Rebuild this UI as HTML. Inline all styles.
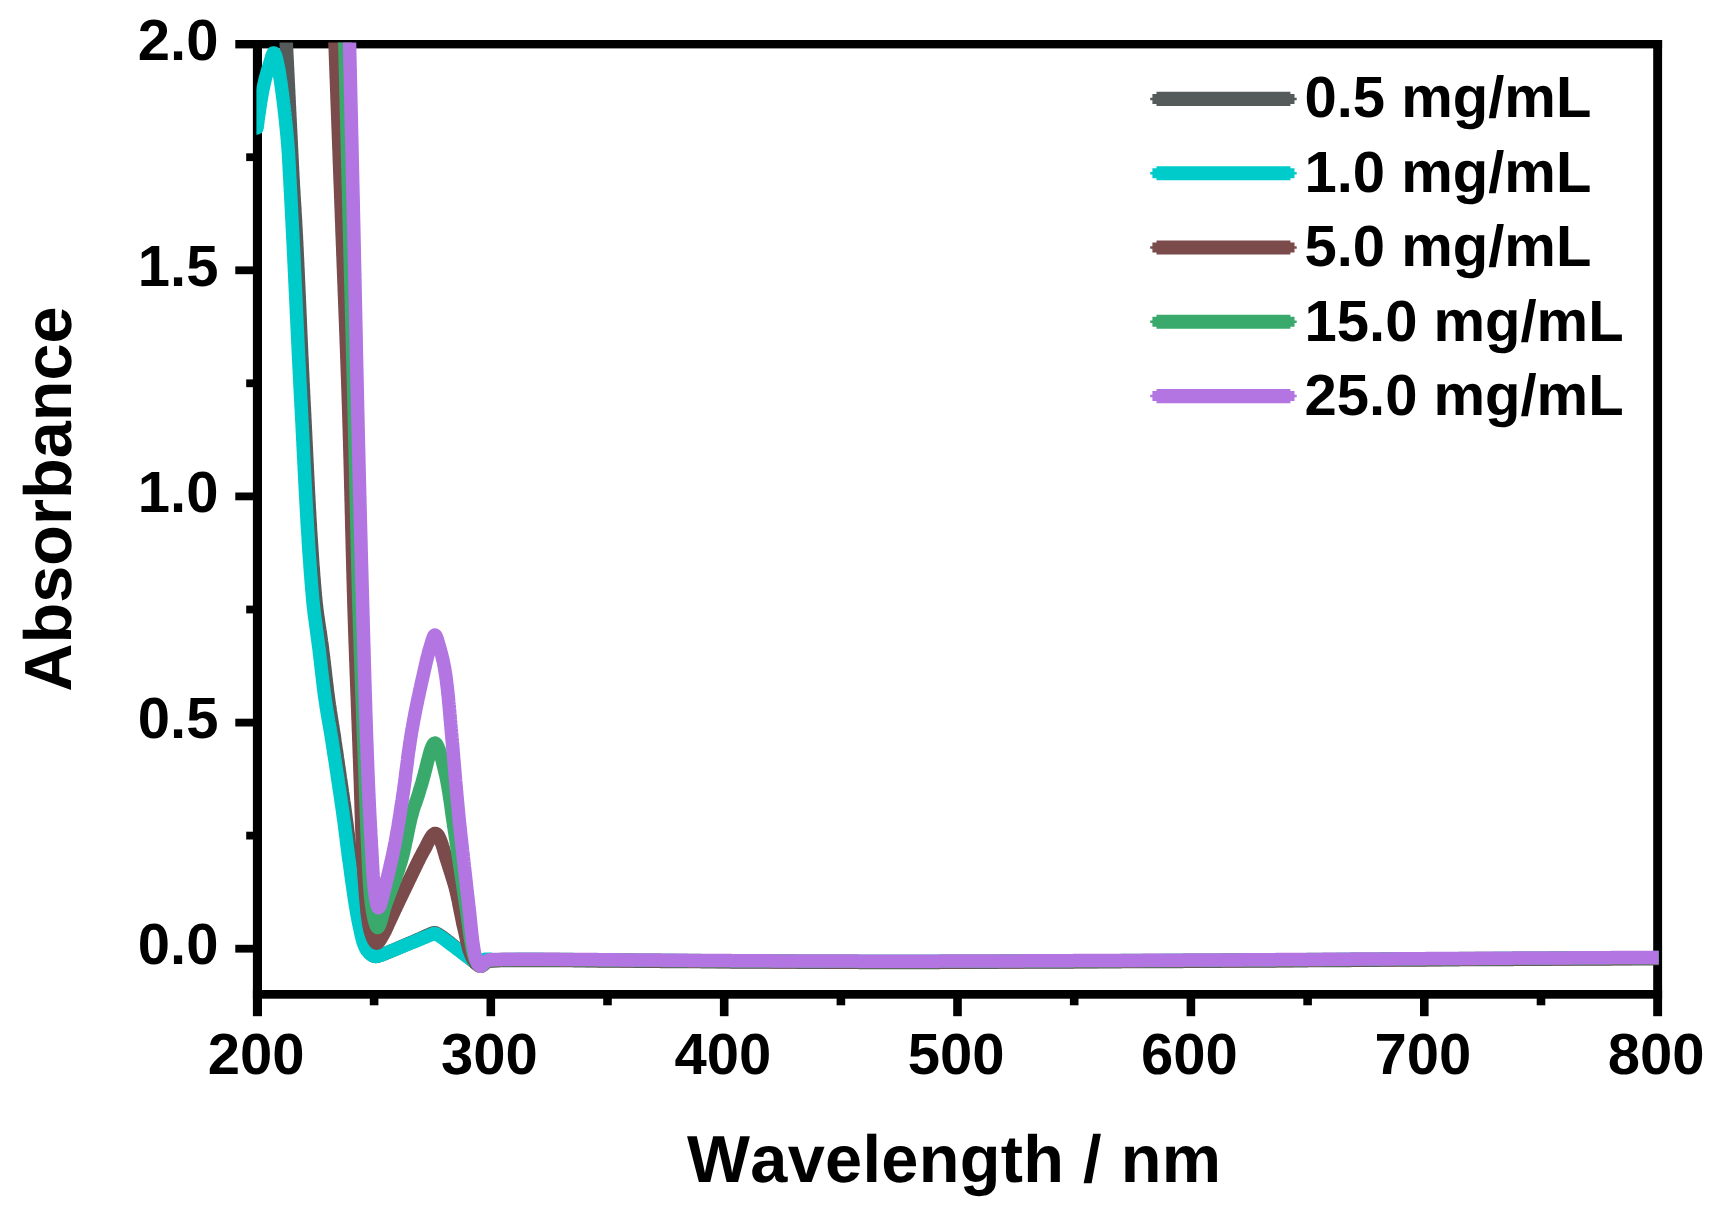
<!DOCTYPE html>
<html lang="en"><head><meta charset="utf-8"><title>UV-Vis absorbance</title>
<style>html,body{margin:0;padding:0;background:#fff;overflow:hidden}svg{display:block}text{font-family:"Liberation Sans",Arial,Helvetica,sans-serif;font-weight:bold;fill:#000;font-kerning:none;text-rendering:geometricPrecision}.t{font-size:58px}.a{font-size:66.7px}</style></head><body>
<svg width="1721" height="1214" viewBox="0 0 1721 1214">
<rect width="1721" height="1214" fill="#fff"/>
<g fill="#000">
<rect x="235.3" y="40.0" width="1426.8" height="8.4"/>
<rect x="252.9" y="40.0" width="9.1" height="976.2"/>
<rect x="1653.2" y="40.0" width="8.9" height="976.2"/>
<rect x="252.9" y="990.0" width="1409.2" height="8.7"/>
<rect x="235.3" y="266.4" width="18.6" height="7.8"/>
<rect x="235.3" y="492.5" width="18.6" height="7.8"/>
<rect x="235.3" y="718.7" width="18.6" height="7.8"/>
<rect x="235.3" y="944.8" width="18.6" height="7.8"/>
<rect x="246.2" y="153.3" width="7.7" height="7.8"/>
<rect x="246.2" y="379.4" width="7.7" height="7.8"/>
<rect x="246.2" y="605.6" width="7.7" height="7.8"/>
<rect x="246.2" y="831.7" width="7.7" height="7.8"/>
<rect x="486.5" y="991.0" width="8.6" height="25.2"/>
<rect x="719.9" y="991.0" width="8.6" height="25.2"/>
<rect x="953.2" y="991.0" width="8.6" height="25.2"/>
<rect x="1186.6" y="991.0" width="8.6" height="25.2"/>
<rect x="1420.0" y="991.0" width="8.6" height="25.2"/>
<rect x="369.8" y="991.0" width="8.6" height="14.3"/>
<rect x="603.2" y="991.0" width="8.6" height="14.3"/>
<rect x="836.6" y="991.0" width="8.6" height="14.3"/>
<rect x="1069.9" y="991.0" width="8.6" height="14.3"/>
<rect x="1303.3" y="991.0" width="8.6" height="14.3"/>
<rect x="1536.7" y="991.0" width="8.6" height="14.3"/>
</g>
<defs><clipPath id="c"><rect x="256.4" y="42.5" width="1402.2" height="951.5"/></clipPath></defs>
<g clip-path="url(#c)" fill="none" stroke-width="13.5" stroke-linejoin="round" stroke-linecap="round">
<path stroke="#555B5A" d="M283.5 0.0L283.6 1.5L283.7 3.0L283.8 4.5L283.9 6.0L284.0 7.5L284.1 9.0L284.2 10.5L284.3 12.0L284.4 13.5L284.5 15.0L284.6 16.5L284.7 18.0L284.8 19.5L284.9 21.0L285.0 22.5L285.1 24.0L285.2 25.5L285.3 27.0L285.4 28.5L285.5 30.0L285.6 31.5L285.6 33.0L285.7 34.5L285.8 36.0L285.9 37.4L286.0 38.9L286.1 40.4L286.2 41.9L286.3 43.4L286.3 44.9L286.4 46.4L286.5 47.9L286.6 49.4L286.7 50.9L286.7 52.4L286.8 53.9L286.9 55.4L287.0 56.9L287.0 58.4L287.1 59.9L287.2 61.4L287.3 62.9L287.3 64.4L287.4 65.9L287.5 67.4L287.6 68.9L287.6 70.4L287.7 71.9L287.8 73.4L287.9 74.9L287.9 76.4L288.0 77.9L288.1 79.4L288.1 80.9L288.2 82.4L288.3 83.9L288.4 85.4L288.4 86.9L288.5 88.4L288.6 89.9L288.7 91.4L288.7 92.9L288.8 94.4L288.9 95.9L289.0 97.4L289.0 98.9L289.1 100.4L289.2 101.9L289.2 103.4L289.3 104.9L289.4 106.4L289.5 107.9L289.5 109.4L289.6 110.9L289.7 112.4L289.8 113.9L289.8 115.4L289.9 116.9L290.0 118.4L290.1 119.9L290.1 121.4L290.2 122.9L290.3 124.4L290.4 125.9L290.4 127.4L290.5 128.9L290.6 130.4L290.7 131.9L290.7 133.4L290.8 134.9L290.9 136.4L291.0 137.9L291.0 139.4L291.1 140.9L291.2 142.4L291.3 143.9L291.3 145.4L291.4 146.9L291.5 148.4L291.6 149.9L291.6 151.4L291.7 152.9L291.8 154.4L291.9 155.9L291.9 157.4L292.0 158.9L292.1 160.4L292.2 161.9L292.2 163.4L292.3 164.9L292.4 166.4L292.5 167.9L292.5 169.4L292.6 170.9L292.7 172.4L292.8 173.9L292.8 175.4L292.9 176.9L293.0 178.4L293.1 179.9L293.2 181.4L293.3 182.9L293.3 184.4L293.4 185.9L293.5 187.4L293.6 188.9L293.7 190.4L293.8 191.9L293.9 193.4L293.9 194.9L294.0 196.4L294.1 197.9L294.2 199.4L294.3 200.9L294.4 202.3L294.5 203.8L294.6 205.3L294.7 206.8L294.8 208.3L294.9 209.8L294.9 211.3L295.0 212.8L295.1 214.3L295.2 215.8L295.3 217.3L295.4 218.8L295.5 220.3L295.6 221.8L295.6 223.3L295.7 224.8L295.8 226.3L295.9 227.8L296.0 229.3L296.0 230.8L296.1 232.3L296.2 233.8L296.3 235.3L296.4 236.8L296.4 238.3L296.5 239.8L296.6 241.3L296.7 242.8L296.7 244.3L296.8 245.8L296.9 247.3L297.0 248.8L297.0 250.3L297.1 251.8L297.2 253.3L297.2 254.8L297.3 256.3L297.4 257.8L297.5 259.3L297.5 260.8L297.6 262.3L297.7 263.8L297.7 265.3L297.8 266.8L297.9 268.3L298.0 269.8L298.0 271.3L298.1 272.8L298.2 274.3L298.2 275.8L298.3 277.3L298.4 278.8L298.4 280.3L298.5 281.8L298.6 283.3L298.6 284.8L298.7 286.3L298.8 287.8L298.8 289.3L298.9 290.8L299.0 292.3L299.0 293.8L299.1 295.3L299.2 296.8L299.2 298.3L299.3 299.8L299.4 301.3L299.4 302.8L299.5 304.3L299.6 305.8L299.6 307.3L299.7 308.8L299.8 310.3L299.8 311.8L299.9 313.3L300.0 314.8L300.0 316.3L300.1 317.8L300.2 319.3L300.2 320.8L300.3 322.3L300.4 323.8L300.4 325.3L300.5 326.8L300.5 328.3L300.6 329.8L300.7 331.3L300.7 332.8L300.8 334.3L300.9 335.8L300.9 337.3L301.0 338.8L301.1 340.3L301.1 341.8L301.2 343.3L301.3 344.8L301.3 346.3L301.4 347.8L301.5 349.3L301.5 350.8L301.6 352.3L301.7 353.8L301.7 355.3L301.8 356.8L301.9 358.3L302.0 359.8L302.0 361.3L302.1 362.8L302.2 364.3L302.2 365.8L302.3 367.3L302.4 368.8L302.4 370.3L302.5 371.8L302.6 373.3L302.7 374.8L302.7 376.3L302.8 377.8L302.9 379.3L302.9 380.8L303.0 382.3L303.1 383.8L303.2 385.3L303.2 386.8L303.3 388.3L303.4 389.8L303.5 391.3L303.5 392.8L303.6 394.3L303.7 395.8L303.8 397.3L303.8 398.8L303.9 400.3L304.0 401.8L304.1 403.3L304.1 404.8L304.2 406.3L304.3 407.8L304.4 409.3L304.4 410.8L304.5 412.3L304.6 413.8L304.7 415.3L304.7 416.8L304.8 418.3L304.9 419.8L305.0 421.3L305.0 422.8L305.1 424.3L305.2 425.8L305.3 427.3L305.3 428.8L305.4 430.3L305.5 431.8L305.6 433.3L305.6 434.8L305.7 436.3L305.8 437.8L305.8 439.3L305.9 440.8L306.0 442.3L306.1 443.8L306.1 445.3L306.2 446.8L306.3 448.3L306.4 449.8L306.4 451.3L306.5 452.8L306.6 454.3L306.6 455.8L306.7 457.3L306.8 458.8L306.9 460.3L306.9 461.8L307.0 463.3L307.1 464.8L307.2 466.3L307.2 467.8L307.3 469.3L307.4 470.8L307.5 472.3L307.5 473.8L307.6 475.3L307.7 476.8L307.8 478.3L307.8 479.8L307.9 481.3L308.0 482.8L308.1 484.3L308.1 485.8L308.2 487.3L308.3 488.8L308.4 490.3L308.4 491.8L308.5 493.3L308.6 494.8L308.7 496.3L308.8 497.8L308.8 499.3L308.9 500.8L309.0 502.3L309.1 503.8L309.2 505.3L309.2 506.8L309.3 508.3L309.4 509.8L309.5 511.3L309.6 512.8L309.7 514.3L309.7 515.8L309.8 517.3L309.9 518.8L310.0 520.3L310.1 521.8L310.2 523.3L310.3 524.8L310.4 526.3L310.4 527.8L310.5 529.3L310.6 530.8L310.7 532.3L310.8 533.8L310.9 535.3L311.0 536.8L311.1 538.3L311.2 539.8L311.3 541.2L311.4 542.7L311.5 544.2L311.6 545.7L311.7 547.2L311.8 548.7L311.9 550.2L312.0 551.7L312.1 553.2L312.2 554.7L312.3 556.2L312.4 557.7L312.5 559.2L312.6 560.7L312.7 562.2L312.8 563.7L312.9 565.2L313.0 566.7L313.2 568.2L313.3 569.7L313.4 571.2L313.5 572.7L313.6 574.2L313.7 575.7L313.8 577.2L314.0 578.6L314.1 580.1L314.2 581.6L314.3 583.1L314.4 584.6L314.6 586.1L314.7 587.6L314.8 589.1L314.9 590.6L315.1 592.1L315.2 593.6L315.3 595.1L315.5 596.6L315.6 598.1L315.7 599.5L315.9 601.0L316.0 602.5L316.2 604.0L316.4 605.5L316.6 607.0L316.7 608.5L316.9 610.0L317.1 611.5L317.3 613.0L317.5 614.4L317.7 615.9L317.9 617.4L318.1 618.9L318.4 620.4L318.6 621.9L318.8 623.4L319.0 624.8L319.2 626.3L319.5 627.8L319.7 629.3L319.9 630.8L320.1 632.3L320.4 633.8L320.6 635.2L320.8 636.7L321.0 638.2L321.2 639.7L321.4 641.2L321.7 642.7L321.9 644.2L322.1 645.7L322.3 647.1L322.5 648.6L322.6 650.1L322.8 651.6L323.0 653.1L323.2 654.6L323.4 656.1L323.6 657.6L323.7 659.1L323.9 660.6L324.1 662.0L324.3 663.5L324.4 665.0L324.6 666.5L324.8 668.0L325.0 669.5L325.1 671.0L325.3 672.5L325.5 674.0L325.6 675.5L325.8 677.0L326.0 678.5L326.2 679.9L326.3 681.4L326.5 682.9L326.7 684.4L326.9 685.9L327.1 687.4L327.2 688.9L327.4 690.4L327.6 691.9L327.8 693.4L328.0 694.8L328.2 696.3L328.4 697.8L328.6 699.3L328.8 700.8L329.0 702.3L329.2 703.8L329.4 705.2L329.7 706.7L329.9 708.2L330.1 709.7L330.3 711.2L330.6 712.7L330.8 714.1L331.0 715.6L331.2 717.1L331.5 718.6L331.7 720.1L331.9 721.6L332.2 723.0L332.4 724.5L332.7 726.0L332.9 727.5L333.1 729.0L333.3 730.5L333.6 731.9L333.8 733.4L334.0 734.9L334.3 736.4L334.5 737.9L334.7 739.4L334.9 740.9L335.1 742.3L335.4 743.8L335.6 745.3L335.8 746.8L336.0 748.3L336.2 749.8L336.5 751.2L336.7 752.7L336.9 754.2L337.1 755.7L337.3 757.2L337.5 758.7L337.8 760.2L338.0 761.6L338.2 763.1L338.4 764.6L338.6 766.1L338.8 767.6L339.0 769.1L339.3 770.6L339.5 772.0L339.7 773.5L339.9 775.0L340.1 776.5L340.3 778.0L340.6 779.5L340.8 781.0L341.0 782.4L341.2 783.9L341.4 785.4L341.7 786.9L341.9 788.4L342.1 789.9L342.3 791.4L342.5 792.8L342.8 794.3L343.0 795.8L343.2 797.3L343.4 798.8L343.6 800.3L343.8 801.7L344.1 803.2L344.3 804.7L344.5 806.2L344.7 807.7L344.9 809.2L345.1 810.7L345.3 812.1L345.5 813.6L345.7 815.1L345.9 816.6L346.1 818.1L346.3 819.6L346.5 821.1L346.7 822.6L346.9 824.1L347.1 825.5L347.3 827.0L347.5 828.5L347.6 830.0L347.8 831.5L348.0 833.0L348.2 834.5L348.4 836.0L348.5 837.5L348.7 839.0L348.9 840.4L349.0 841.9L349.2 843.4L349.4 844.9L349.6 846.4L349.7 847.9L349.9 849.4L350.1 850.9L350.3 852.4L350.4 853.9L350.6 855.4L350.8 856.8L351.0 858.3L351.2 859.8L351.4 861.3L351.6 862.8L351.7 864.3L351.9 865.8L352.1 867.3L352.3 868.8L352.5 870.3L352.7 871.7L352.9 873.2L353.1 874.7L353.2 876.2L353.4 877.7L353.6 879.2L353.8 880.7L354.0 882.2L354.2 883.7L354.3 885.2L354.5 886.7L354.7 888.2L354.9 889.7L355.1 891.2L355.3 892.7L355.5 894.2L355.7 895.6L355.9 897.1L356.1 898.6L356.3 900.1L356.5 901.6L356.7 903.1L356.9 904.6L357.1 906.1L357.4 907.6L357.6 909.0L357.8 910.5L358.1 912.0L358.3 913.5L358.5 915.0L358.8 916.4L359.0 917.9L359.3 919.4L359.6 920.9L359.8 922.3L360.1 923.8L360.4 925.3L360.7 926.7L361.0 928.2L361.3 929.7L361.6 931.2L361.9 932.7L362.2 934.2L362.6 935.7L362.9 937.3L363.3 938.8L363.7 940.3L364.1 941.8L364.6 943.2L365.0 944.6L365.6 946.0L366.1 947.3L366.7 948.5L367.4 949.7L368.2 951.0L369.3 952.3L370.4 953.6L371.6 954.8L372.9 955.7L374.2 956.2L375.5 956.4L376.7 956.3L378.1 956.0L379.5 955.6L380.9 955.2L382.4 954.6L383.9 954.0L385.4 953.4L386.9 952.8L388.3 952.2L389.7 951.6L391.1 951.1L392.5 950.5L393.9 949.9L395.3 949.3L396.7 948.7L398.0 948.1L399.4 947.5L400.8 946.9L402.2 946.3L403.6 945.7L404.9 945.1L406.3 944.5L407.7 943.9L409.1 943.4L410.4 942.8L411.8 942.2L413.2 941.6L414.6 941.0L416.0 940.4L417.3 939.8L418.7 939.2L420.1 938.6L421.5 938.0L422.8 937.4L424.2 936.8L425.6 936.1L426.9 935.5L428.3 934.9L429.7 934.3L431.1 933.7L432.5 933.2L434.0 932.7L435.4 932.7L436.7 933.3L438.1 934.1L439.3 934.9L440.6 935.7L441.8 936.5L443.1 937.4L444.3 938.3L445.5 939.2L446.7 940.2L447.8 941.1L449.0 942.0L450.2 943.0L451.4 943.9L452.6 944.8L453.7 945.8L454.9 946.7L456.1 947.7L457.2 948.6L458.4 949.6L459.6 950.5L460.7 951.4L461.9 952.4L463.1 953.3L464.3 954.2L465.5 955.1L466.7 956.1L467.9 957.0L469.1 957.8L470.3 958.7L471.5 959.7L472.7 960.7L474.0 961.8L475.2 962.9L476.5 963.8L477.8 964.5L479.1 964.9L480.4 965.0L481.7 964.7L483.1 964.1L484.5 963.3L485.9 962.5L487.3 961.8L488.7 961.2L490.2 961.0L491.6 960.9L493.1 960.9L494.5 960.8L496.0 960.8L497.5 960.7L499.0 960.7L500.5 960.6L502.0 960.6L503.5 960.6L505.0 960.5L506.5 960.5L508.1 960.5L509.6 960.5L511.1 960.4L512.6 960.4L514.1 960.4L515.7 960.4L517.2 960.4L518.7 960.4L520.2 960.4L521.7 960.4L523.2 960.4L524.7 960.4L526.2 960.4L527.7 960.4L529.2 960.4L530.7 960.4L532.2 960.4L533.7 960.4L535.2 960.4L536.7 960.4L538.2 960.4L539.7 960.4L541.2 960.4L542.7 960.5L544.2 960.5L545.7 960.5L547.2 960.5L548.7 960.5L550.2 960.5L551.7 960.5L553.2 960.5L554.7 960.5L556.2 960.5L557.7 960.5L559.2 960.5L560.7 960.6L562.2 960.6L563.7 960.6L565.2 960.6L566.7 960.6L568.2 960.6L569.7 960.6L571.2 960.6L572.7 960.6L574.2 960.7L575.7 960.7L577.2 960.7L578.7 960.7L580.2 960.7L581.7 960.7L583.2 960.7L584.7 960.7L586.2 960.8L587.7 960.8L589.2 960.8L590.7 960.8L592.2 960.8L593.7 960.8L595.2 960.8L596.7 960.8L598.2 960.9L599.7 960.9L601.2 960.9L602.7 960.9L604.2 960.9L605.7 960.9L607.3 960.9L608.8 961.0L610.3 961.0L611.8 961.0L613.3 961.0L614.8 961.0L616.3 961.0L617.8 961.0L619.3 961.0L620.8 961.1L622.3 961.1L623.8 961.1L625.3 961.1L626.8 961.1L628.3 961.1L629.8 961.1L631.3 961.1L632.8 961.1L634.3 961.2L635.8 961.2L637.3 961.2L638.8 961.2L640.3 961.2L641.8 961.2L643.3 961.2L644.8 961.2L646.3 961.2L647.8 961.3L649.3 961.3L650.8 961.3L652.3 961.3L653.8 961.3L655.3 961.3L656.8 961.3L658.3 961.3L659.8 961.3L661.3 961.4L662.8 961.4L664.3 961.4L665.8 961.4L667.3 961.4L668.8 961.4L670.3 961.4L671.8 961.4L673.3 961.4L674.8 961.5L676.3 961.5L677.8 961.5L679.3 961.5L680.8 961.5L682.3 961.5L683.8 961.5L685.3 961.5L686.8 961.5L688.3 961.6L689.8 961.6L691.3 961.6L692.8 961.6L694.3 961.6L695.8 961.6L697.3 961.6L698.8 961.6L700.3 961.6L701.8 961.7L703.3 961.7L704.8 961.7L706.3 961.7L707.8 961.7L709.3 961.7L710.8 961.7L712.3 961.7L713.8 961.7L715.3 961.7L716.8 961.8L718.3 961.8L719.8 961.8L721.3 961.8L722.8 961.8L724.3 961.8L725.8 961.8L727.3 961.8L728.8 961.8L730.3 961.8L731.8 961.9L733.3 961.9L734.8 961.9L736.3 961.9L737.8 961.9L739.3 961.9L740.8 961.9L742.3 961.9L743.8 961.9L745.3 961.9L746.8 961.9L748.3 961.9L749.9 962.0L751.4 962.0L752.9 962.0L754.4 962.0L755.9 962.0L757.4 962.0L758.9 962.0L760.4 962.0L761.9 962.0L763.4 962.0L764.9 962.0L766.4 962.0L767.9 962.0L769.4 962.0L770.9 962.0L772.4 962.1L773.9 962.1L775.4 962.1L776.9 962.1L778.4 962.1L779.9 962.1L781.4 962.1L782.9 962.1L784.4 962.1L785.9 962.1L787.4 962.1L788.9 962.1L790.4 962.1L791.9 962.1L793.4 962.1L794.9 962.1L796.4 962.1L797.9 962.2L799.4 962.2L800.9 962.2L802.4 962.2L803.9 962.2L805.4 962.2L806.9 962.2L808.4 962.2L809.9 962.2L811.4 962.2L812.9 962.2L814.4 962.2L815.9 962.2L817.4 962.2L818.9 962.2L820.4 962.2L821.9 962.2L823.4 962.2L824.9 962.3L826.4 962.3L827.9 962.3L829.4 962.3L830.9 962.3L832.4 962.3L833.9 962.3L835.4 962.3L836.9 962.3L838.4 962.3L839.9 962.3L841.4 962.3L842.9 962.3L844.4 962.3L845.9 962.3L847.4 962.3L848.9 962.3L850.4 962.3L851.9 962.3L853.4 962.3L854.9 962.3L856.4 962.3L857.9 962.3L859.4 962.4L860.9 962.4L862.4 962.4L863.9 962.4L865.4 962.4L866.9 962.4L868.4 962.4L869.9 962.4L871.4 962.4L872.9 962.4L874.4 962.4L875.9 962.4L877.4 962.4L878.9 962.4L880.4 962.4L881.9 962.4L883.4 962.4L884.9 962.4L886.4 962.4L887.9 962.4L889.5 962.4L891.0 962.4L892.5 962.4L894.0 962.4L895.5 962.4L897.0 962.4L898.5 962.4L900.0 962.4L901.5 962.4L903.0 962.4L904.5 962.4L906.0 962.4L907.5 962.4L909.0 962.4L910.5 962.4L912.0 962.4L913.5 962.4L915.0 962.4L916.5 962.4L918.0 962.4L919.5 962.4L921.0 962.4L922.5 962.4L924.0 962.4L925.5 962.4L927.0 962.4L928.5 962.4L930.0 962.4L931.5 962.4L933.0 962.4L934.5 962.4L936.0 962.4L937.5 962.4L939.0 962.4L940.5 962.3L942.0 962.3L943.5 962.3L945.0 962.3L946.5 962.3L948.0 962.3L949.5 962.3L951.0 962.3L952.5 962.3L954.0 962.3L955.5 962.3L957.0 962.3L958.5 962.3L960.0 962.3L961.5 962.3L963.0 962.3L964.5 962.3L966.0 962.3L967.5 962.3L969.0 962.3L970.5 962.3L972.0 962.3L973.5 962.2L975.0 962.2L976.5 962.2L978.0 962.2L979.5 962.2L981.0 962.2L982.5 962.2L984.0 962.2L985.5 962.2L987.0 962.2L988.5 962.2L990.0 962.2L991.5 962.2L993.0 962.2L994.5 962.2L996.0 962.2L997.5 962.2L999.0 962.1L1000.5 962.1L1002.0 962.1L1003.5 962.1L1005.0 962.1L1006.5 962.1L1008.0 962.1L1009.5 962.1L1011.0 962.1L1012.5 962.1L1014.0 962.1L1015.5 962.1L1017.0 962.1L1018.5 962.1L1020.0 962.1L1021.5 962.1L1023.0 962.0L1024.5 962.0L1026.0 962.0L1027.5 962.0L1029.1 962.0L1030.6 962.0L1032.1 962.0L1033.6 962.0L1035.1 962.0L1036.6 962.0L1038.1 962.0L1039.6 962.0L1041.1 962.0L1042.6 962.0L1044.1 962.0L1045.6 962.0L1047.1 962.0L1048.6 961.9L1050.1 961.9L1051.6 961.9L1053.1 961.9L1054.6 961.9L1056.1 961.9L1057.6 961.9L1059.1 961.9L1060.6 961.9L1062.1 961.9L1063.6 961.9L1065.1 961.9L1066.6 961.9L1068.1 961.9L1069.6 961.9L1071.1 961.9L1072.6 961.9L1074.1 961.8L1075.6 961.8L1077.1 961.8L1078.6 961.8L1080.1 961.8L1081.6 961.8L1083.1 961.8L1084.6 961.8L1086.1 961.8L1087.6 961.8L1089.1 961.8L1090.6 961.8L1092.1 961.8L1093.6 961.8L1095.1 961.8L1096.6 961.8L1098.1 961.7L1099.6 961.7L1101.1 961.7L1102.6 961.7L1104.1 961.7L1105.6 961.7L1107.1 961.7L1108.6 961.7L1110.1 961.7L1111.6 961.7L1113.1 961.7L1114.6 961.7L1116.1 961.7L1117.6 961.7L1119.1 961.7L1120.6 961.7L1122.1 961.6L1123.6 961.6L1125.1 961.6L1126.6 961.6L1128.1 961.6L1129.6 961.6L1131.1 961.6L1132.6 961.6L1134.1 961.6L1135.6 961.6L1137.1 961.6L1138.6 961.6L1140.1 961.6L1141.6 961.6L1143.1 961.5L1144.6 961.5L1146.1 961.5L1147.6 961.5L1149.1 961.5L1150.6 961.5L1152.1 961.5L1153.6 961.5L1155.1 961.5L1156.6 961.5L1158.1 961.5L1159.6 961.5L1161.1 961.5L1162.6 961.5L1164.1 961.4L1165.6 961.4L1167.1 961.4L1168.7 961.4L1170.2 961.4L1171.7 961.4L1173.2 961.4L1174.7 961.4L1176.2 961.4L1177.7 961.4L1179.2 961.4L1180.7 961.4L1182.2 961.4L1183.7 961.3L1185.2 961.3L1186.7 961.3L1188.2 961.3L1189.7 961.3L1191.2 961.3L1192.7 961.3L1194.2 961.3L1195.7 961.3L1197.2 961.3L1198.7 961.3L1200.2 961.3L1201.7 961.3L1203.2 961.3L1204.7 961.2L1206.2 961.2L1207.7 961.2L1209.2 961.2L1210.7 961.2L1212.2 961.2L1213.7 961.2L1215.2 961.2L1216.7 961.2L1218.2 961.2L1219.7 961.2L1221.2 961.2L1222.7 961.1L1224.2 961.1L1225.7 961.1L1227.2 961.1L1228.7 961.1L1230.2 961.1L1231.7 961.1L1233.2 961.1L1234.7 961.1L1236.2 961.1L1237.7 961.1L1239.2 961.1L1240.7 961.1L1242.2 961.0L1243.7 961.0L1245.2 961.0L1246.7 961.0L1248.2 961.0L1249.7 961.0L1251.2 961.0L1252.7 961.0L1254.2 961.0L1255.7 961.0L1257.2 961.0L1258.7 961.0L1260.2 960.9L1261.7 960.9L1263.2 960.9L1264.7 960.9L1266.2 960.9L1267.7 960.9L1269.2 960.9L1270.7 960.9L1272.2 960.9L1273.7 960.9L1275.2 960.9L1276.7 960.8L1278.2 960.8L1279.7 960.8L1281.2 960.8L1282.7 960.8L1284.2 960.8L1285.7 960.8L1287.2 960.8L1288.7 960.8L1290.2 960.8L1291.7 960.8L1293.2 960.7L1294.7 960.7L1296.2 960.7L1297.7 960.7L1299.2 960.7L1300.7 960.7L1302.2 960.7L1303.7 960.7L1305.2 960.7L1306.7 960.7L1308.2 960.6L1309.8 960.6L1311.3 960.6L1312.8 960.6L1314.3 960.6L1315.8 960.6L1317.3 960.6L1318.8 960.6L1320.3 960.6L1321.8 960.6L1323.3 960.5L1324.8 960.5L1326.3 960.5L1327.8 960.5L1329.3 960.5L1330.8 960.5L1332.3 960.5L1333.8 960.5L1335.3 960.5L1336.8 960.5L1338.3 960.4L1339.8 960.4L1341.3 960.4L1342.8 960.4L1344.3 960.4L1345.8 960.4L1347.3 960.4L1348.8 960.4L1350.3 960.4L1351.8 960.3L1353.3 960.3L1354.8 960.3L1356.3 960.3L1357.8 960.3L1359.3 960.3L1360.8 960.3L1362.3 960.3L1363.8 960.3L1365.3 960.3L1366.8 960.2L1368.3 960.2L1369.8 960.2L1371.3 960.2L1372.8 960.2L1374.3 960.2L1375.8 960.2L1377.3 960.2L1378.8 960.2L1380.3 960.1L1381.8 960.1L1383.3 960.1L1384.8 960.1L1386.3 960.1L1387.8 960.1L1389.3 960.1L1390.8 960.1L1392.3 960.1L1393.8 960.1L1395.3 960.0L1396.8 960.0L1398.3 960.0L1399.8 960.0L1401.3 960.0L1402.8 960.0L1404.3 960.0L1405.8 960.0L1407.3 960.0L1408.8 960.0L1410.3 959.9L1411.8 959.9L1413.3 959.9L1414.8 959.9L1416.3 959.9L1417.8 959.9L1419.3 959.9L1420.8 959.9L1422.3 959.9L1423.8 959.9L1425.3 959.9L1426.8 959.8L1428.3 959.8L1429.8 959.8L1431.3 959.8L1432.8 959.8L1434.3 959.8L1435.8 959.8L1437.3 959.8L1438.8 959.8L1440.3 959.8L1441.8 959.7L1443.3 959.7L1444.8 959.7L1446.3 959.7L1447.8 959.7L1449.3 959.7L1450.8 959.7L1452.4 959.7L1453.9 959.7L1455.4 959.7L1456.9 959.7L1458.4 959.7L1459.9 959.6L1461.4 959.6L1462.9 959.6L1464.4 959.6L1465.9 959.6L1467.4 959.6L1468.9 959.6L1470.4 959.6L1471.9 959.6L1473.4 959.6L1474.9 959.6L1476.4 959.5L1477.9 959.5L1479.4 959.5L1480.9 959.5L1482.4 959.5L1483.9 959.5L1485.4 959.5L1486.9 959.5L1488.4 959.5L1489.9 959.5L1491.4 959.5L1492.9 959.5L1494.4 959.4L1495.9 959.4L1497.4 959.4L1498.9 959.4L1500.4 959.4L1501.9 959.4L1503.4 959.4L1504.9 959.4L1506.4 959.4L1507.9 959.4L1509.4 959.4L1510.9 959.4L1512.4 959.4L1513.9 959.3L1515.4 959.3L1516.9 959.3L1518.4 959.3L1519.9 959.3L1521.4 959.3L1522.9 959.3L1524.4 959.3L1525.9 959.3L1527.4 959.3L1528.9 959.3L1530.4 959.3L1531.9 959.2L1533.4 959.2L1534.9 959.2L1536.4 959.2L1537.9 959.2L1539.4 959.2L1540.9 959.2L1542.4 959.2L1543.9 959.2L1545.4 959.2L1546.9 959.2L1548.4 959.2L1549.9 959.2L1551.4 959.1L1552.9 959.1L1554.4 959.1L1555.9 959.1L1557.4 959.1L1558.9 959.1L1560.4 959.1L1561.9 959.1L1563.4 959.1L1564.9 959.1L1566.4 959.1L1567.9 959.1L1569.4 959.1L1570.9 959.0L1572.4 959.0L1573.9 959.0L1575.4 959.0L1576.9 959.0L1578.4 959.0L1579.9 959.0L1581.4 959.0L1582.9 959.0L1584.4 959.0L1585.9 959.0L1587.4 959.0L1588.9 959.0L1590.4 958.9L1591.9 958.9L1593.4 958.9L1595.0 958.9L1596.5 958.9L1598.0 958.9L1599.5 958.9L1601.0 958.9L1602.5 958.9L1604.0 958.9L1605.5 958.9L1607.0 958.9L1608.5 958.9L1610.0 958.9L1611.5 958.8L1613.0 958.8L1614.5 958.8L1616.0 958.8L1617.5 958.8L1619.0 958.8L1620.5 958.8L1622.0 958.8L1623.5 958.8L1625.0 958.8L1626.5 958.8L1628.0 958.8L1629.5 958.8L1631.0 958.8L1632.5 958.7L1634.0 958.7L1635.5 958.7L1637.0 958.7L1638.5 958.7L1640.0 958.7L1641.5 958.7L1643.0 958.7L1644.5 958.7L1646.0 958.7L1647.5 958.7L1649.0 958.7L1650.5 958.7L1652.0 958.7L1653.5 958.6L1655.0 958.6L1656.5 958.6L1658.0 958.6L1659.5 958.6L1661.0 958.6L1662.5 958.6L1664.0 958.6"/>
<path stroke="#00CBCB" d="M257.0 128.0L257.2 126.5L257.4 125.0L257.6 123.5L257.8 122.0L258.0 120.6L258.2 119.1L258.4 117.6L258.6 116.1L258.8 114.6L259.0 113.1L259.3 111.6L259.5 110.1L259.7 108.7L259.9 107.2L260.1 105.7L260.4 104.2L260.6 102.7L260.8 101.2L261.1 99.8L261.3 98.3L261.6 96.8L261.8 95.3L262.1 93.8L262.4 92.4L262.6 90.9L262.9 89.4L263.2 87.9L263.5 86.5L263.9 85.0L264.2 83.5L264.5 82.1L264.9 80.6L265.2 79.1L265.6 77.7L266.0 76.2L266.4 74.8L266.8 73.3L267.2 71.9L267.6 70.4L268.0 69.0L268.4 67.6L268.9 66.1L269.3 64.7L269.7 63.3L270.2 61.8L270.6 60.4L271.1 58.9L271.5 57.5L271.9 56.0L272.5 54.6L273.2 53.1L274.1 53.1L275.1 54.6L275.7 55.9L276.1 57.4L276.5 58.9L276.8 60.3L277.2 61.8L277.5 63.3L277.8 64.7L278.1 66.2L278.4 67.7L278.7 69.2L278.9 70.6L279.2 72.1L279.4 73.6L279.6 75.1L279.9 76.6L280.1 78.0L280.3 79.5L280.6 81.0L280.8 82.5L281.0 84.0L281.2 85.5L281.4 87.0L281.6 88.5L281.8 89.9L282.0 91.4L282.2 92.9L282.4 94.4L282.6 95.9L282.8 97.4L283.0 98.9L283.2 100.4L283.4 101.9L283.5 103.3L283.7 104.8L283.9 106.3L284.1 107.8L284.3 109.3L284.4 110.8L284.6 112.3L284.8 113.8L284.9 115.3L285.1 116.8L285.3 118.3L285.4 119.8L285.6 121.3L285.7 122.8L285.9 124.2L286.0 125.7L286.2 127.2L286.3 128.7L286.5 130.2L286.6 131.7L286.8 133.2L286.9 134.7L287.1 136.2L287.2 137.7L287.3 139.2L287.5 140.7L287.6 142.2L287.7 143.7L287.8 145.2L287.9 146.7L288.1 148.2L288.2 149.7L288.3 151.2L288.4 152.7L288.5 154.2L288.6 155.7L288.6 157.2L288.7 158.7L288.8 160.2L288.9 161.7L289.0 163.2L289.1 164.7L289.2 166.2L289.2 167.7L289.3 169.2L289.4 170.7L289.5 172.2L289.5 173.7L289.6 175.2L289.7 176.7L289.8 178.2L289.9 179.7L290.0 181.2L290.0 182.7L290.1 184.2L290.2 185.7L290.3 187.2L290.4 188.7L290.4 190.2L290.5 191.7L290.6 193.2L290.7 194.7L290.8 196.2L290.8 197.7L290.9 199.2L291.0 200.7L291.1 202.2L291.2 203.7L291.2 205.2L291.3 206.7L291.4 208.2L291.5 209.7L291.5 211.2L291.6 212.7L291.7 214.2L291.8 215.7L291.8 217.2L291.9 218.7L292.0 220.2L292.1 221.7L292.2 223.2L292.2 224.7L292.3 226.2L292.4 227.7L292.5 229.2L292.5 230.7L292.6 232.2L292.7 233.7L292.8 235.2L292.8 236.7L292.9 238.2L293.0 239.7L293.1 241.2L293.1 242.7L293.2 244.2L293.3 245.7L293.4 247.2L293.4 248.7L293.5 250.2L293.6 251.7L293.7 253.2L293.7 254.7L293.8 256.2L293.9 257.7L293.9 259.2L294.0 260.7L294.1 262.2L294.2 263.7L294.2 265.2L294.3 266.7L294.4 268.2L294.4 269.7L294.5 271.2L294.6 272.7L294.7 274.2L294.7 275.7L294.8 277.2L294.9 278.7L294.9 280.2L295.0 281.7L295.1 283.2L295.2 284.7L295.2 286.2L295.3 287.7L295.4 289.2L295.4 290.7L295.5 292.2L295.6 293.7L295.7 295.2L295.7 296.7L295.8 298.2L295.9 299.7L295.9 301.2L296.0 302.7L296.1 304.2L296.2 305.7L296.2 307.2L296.3 308.7L296.4 310.2L296.4 311.7L296.5 313.2L296.6 314.7L296.6 316.2L296.7 317.7L296.8 319.2L296.9 320.7L296.9 322.2L297.0 323.7L297.1 325.2L297.1 326.7L297.2 328.2L297.3 329.7L297.4 331.2L297.4 332.7L297.5 334.2L297.6 335.7L297.6 337.2L297.7 338.7L297.8 340.2L297.9 341.7L297.9 343.2L298.0 344.7L298.1 346.2L298.2 347.7L298.2 349.2L298.3 350.7L298.4 352.2L298.4 353.7L298.5 355.2L298.6 356.7L298.7 358.2L298.7 359.7L298.8 361.2L298.9 362.7L299.0 364.2L299.0 365.7L299.1 367.2L299.2 368.7L299.3 370.2L299.3 371.7L299.4 373.2L299.5 374.7L299.6 376.2L299.6 377.7L299.7 379.2L299.8 380.7L299.9 382.2L299.9 383.7L300.0 385.2L300.1 386.7L300.2 388.2L300.3 389.7L300.3 391.2L300.4 392.7L300.5 394.2L300.6 395.7L300.6 397.2L300.7 398.7L300.8 400.2L300.9 401.7L301.0 403.2L301.0 404.7L301.1 406.2L301.2 407.7L301.3 409.2L301.4 410.7L301.4 412.2L301.5 413.7L301.6 415.2L301.7 416.7L301.7 418.2L301.8 419.7L301.9 421.2L302.0 422.7L302.1 424.2L302.1 425.7L302.2 427.2L302.3 428.7L302.4 430.2L302.4 431.7L302.5 433.2L302.6 434.7L302.7 436.2L302.7 437.7L302.8 439.2L302.9 440.7L303.0 442.2L303.0 443.7L303.1 445.2L303.2 446.7L303.3 448.2L303.3 449.7L303.4 451.2L303.5 452.7L303.6 454.2L303.6 455.7L303.7 457.2L303.8 458.7L303.9 460.2L303.9 461.7L304.0 463.2L304.1 464.7L304.2 466.2L304.2 467.7L304.3 469.2L304.4 470.7L304.5 472.2L304.5 473.7L304.6 475.2L304.7 476.7L304.8 478.2L304.8 479.7L304.9 481.2L305.0 482.7L305.1 484.2L305.2 485.7L305.2 487.2L305.3 488.7L305.4 490.2L305.5 491.7L305.6 493.2L305.6 494.7L305.7 496.2L305.8 497.7L305.9 499.2L306.0 500.7L306.0 502.2L306.1 503.7L306.2 505.2L306.3 506.7L306.4 508.2L306.5 509.7L306.5 511.2L306.6 512.7L306.7 514.2L306.8 515.7L306.9 517.2L307.0 518.7L307.1 520.2L307.1 521.7L307.2 523.2L307.3 524.7L307.4 526.2L307.5 527.7L307.6 529.2L307.7 530.7L307.8 532.2L307.9 533.7L308.0 535.2L308.1 536.7L308.2 538.2L308.2 539.7L308.3 541.2L308.4 542.7L308.5 544.2L308.6 545.7L308.7 547.2L308.8 548.7L308.9 550.2L309.0 551.7L309.1 553.2L309.2 554.7L309.3 556.2L309.4 557.7L309.6 559.2L309.7 560.7L309.8 562.2L309.9 563.7L310.0 565.2L310.1 566.7L310.2 568.2L310.3 569.7L310.4 571.2L310.5 572.7L310.6 574.2L310.8 575.7L310.9 577.2L311.0 578.6L311.1 580.1L311.2 581.6L311.3 583.1L311.5 584.6L311.6 586.1L311.7 587.6L311.8 589.1L312.0 590.6L312.1 592.1L312.2 593.6L312.3 595.1L312.5 596.6L312.6 598.1L312.7 599.6L312.9 601.1L313.0 602.6L313.2 604.0L313.3 605.5L313.5 607.0L313.7 608.5L313.9 610.0L314.0 611.5L314.2 613.0L314.4 614.5L314.6 616.0L314.8 617.5L315.0 619.0L315.2 620.4L315.4 621.9L315.6 623.4L315.8 624.9L316.0 626.4L316.2 627.9L316.4 629.4L316.6 630.9L316.8 632.4L317.0 633.8L317.2 635.3L317.4 636.8L317.6 638.3L317.8 639.8L318.0 641.3L318.2 642.8L318.4 644.3L318.6 645.8L318.8 647.3L319.0 648.7L319.2 650.2L319.3 651.7L319.5 653.2L319.7 654.7L319.9 656.2L320.0 657.7L320.2 659.2L320.4 660.7L320.6 662.2L320.7 663.7L320.9 665.2L321.1 666.7L321.2 668.1L321.4 669.6L321.6 671.1L321.8 672.6L321.9 674.1L322.1 675.6L322.3 677.1L322.5 678.6L322.6 680.1L322.8 681.6L323.0 683.1L323.2 684.6L323.3 686.0L323.5 687.5L323.7 689.0L323.9 690.5L324.1 692.0L324.3 693.5L324.5 695.0L324.7 696.5L324.9 698.0L325.1 699.4L325.3 700.9L325.6 702.4L325.8 703.9L326.0 705.4L326.2 706.9L326.5 708.3L326.7 709.8L327.0 711.3L327.2 712.8L327.5 714.3L327.7 715.8L328.0 717.2L328.2 718.7L328.5 720.2L328.7 721.7L329.0 723.2L329.3 724.6L329.5 726.1L329.8 727.6L330.0 729.1L330.3 730.6L330.5 732.0L330.8 733.5L331.0 735.0L331.3 736.5L331.5 738.0L331.7 739.4L332.0 740.9L332.2 742.4L332.4 743.9L332.7 745.4L332.9 746.9L333.1 748.4L333.4 749.8L333.6 751.3L333.8 752.8L334.0 754.3L334.3 755.8L334.5 757.3L334.7 758.7L335.0 760.2L335.2 761.7L335.4 763.2L335.6 764.7L335.9 766.2L336.1 767.7L336.3 769.1L336.5 770.6L336.8 772.1L337.0 773.6L337.2 775.1L337.4 776.6L337.7 778.0L337.9 779.5L338.1 781.0L338.3 782.5L338.5 784.0L338.8 785.5L339.0 787.0L339.2 788.4L339.4 789.9L339.7 791.4L339.9 792.9L340.1 794.4L340.3 795.9L340.5 797.4L340.8 798.8L341.0 800.3L341.2 801.8L341.4 803.3L341.6 804.8L341.9 806.3L342.1 807.8L342.3 809.2L342.5 810.7L342.7 812.2L342.9 813.7L343.1 815.2L343.3 816.7L343.5 818.2L343.8 819.7L344.0 821.1L344.2 822.6L344.4 824.1L344.6 825.6L344.7 827.1L344.9 828.6L345.1 830.1L345.3 831.6L345.5 833.1L345.7 834.6L345.9 836.0L346.1 837.5L346.3 839.0L346.4 840.5L346.6 842.0L346.8 843.5L347.0 845.0L347.2 846.5L347.4 848.0L347.6 849.5L347.8 850.9L348.0 852.4L348.1 853.9L348.3 855.4L348.5 856.9L348.7 858.4L348.9 859.9L349.2 861.4L349.4 862.8L349.6 864.3L349.8 865.8L350.0 867.3L350.2 868.8L350.4 870.3L350.6 871.8L350.8 873.3L351.0 874.8L351.2 876.3L351.4 877.7L351.6 879.2L351.8 880.7L352.0 882.2L352.2 883.7L352.5 885.2L352.7 886.7L352.9 888.2L353.1 889.7L353.3 891.2L353.5 892.7L353.7 894.2L354.0 895.6L354.2 897.1L354.4 898.6L354.6 900.1L354.9 901.6L355.1 903.1L355.3 904.6L355.6 906.0L355.8 907.5L356.1 909.0L356.3 910.5L356.6 912.0L356.8 913.4L357.1 914.9L357.4 916.4L357.7 917.9L357.9 919.3L358.2 920.8L358.5 922.3L358.8 923.7L359.1 925.2L359.4 926.7L359.8 928.1L360.1 929.6L360.4 931.1L360.7 932.6L361.1 934.2L361.4 935.7L361.8 937.2L362.2 938.8L362.6 940.3L363.0 941.8L363.5 943.2L364.0 944.6L364.5 945.9L365.1 947.2L365.7 948.4L366.3 949.6L367.2 950.8L368.3 952.0L369.4 953.3L370.7 954.4L372.0 955.3L373.4 956.0L374.7 956.4L376.0 956.4L377.3 956.2L378.7 955.9L380.2 955.5L381.6 954.9L383.1 954.4L384.5 953.8L386.0 953.1L387.5 952.5L388.9 951.9L390.3 951.4L391.7 950.8L393.1 950.3L394.5 949.7L395.9 949.1L397.3 948.6L398.7 948.0L400.1 947.4L401.5 946.8L402.9 946.3L404.2 945.7L405.6 945.1L407.0 944.6L408.4 944.0L409.8 943.4L411.2 942.9L412.6 942.3L414.0 941.8L415.4 941.2L416.8 940.6L418.2 940.1L419.6 939.5L421.0 938.9L422.3 938.4L423.7 937.8L425.1 937.2L426.5 936.6L427.9 936.0L429.3 935.4L430.7 934.9L432.1 934.4L433.5 933.8L435.0 933.6L436.3 934.0L437.7 934.9L439.0 935.7L440.2 936.5L441.5 937.3L442.7 938.1L443.9 939.0L445.1 939.9L446.3 940.8L447.5 941.8L448.7 942.7L449.9 943.6L451.1 944.5L452.3 945.4L453.6 946.3L454.8 947.2L456.0 948.1L457.2 949.0L458.4 949.9L459.6 950.8L460.8 951.7L462.0 952.6L463.2 953.5L464.4 954.4L465.6 955.3L466.8 956.2L468.0 957.1L469.2 958.0L470.4 958.8L471.7 959.8L472.9 960.9L474.2 961.8L475.5 962.4L476.9 962.5L478.4 962.4L479.9 962.1L481.3 961.7L482.5 960.7L483.8 959.6L485.1 959.2L486.5 959.2L488.1 959.2L489.6 959.2L491.1 959.3L492.6 959.6L494.1 960.0L495.5 960.2L497.0 960.2L498.5 960.2L500.0 960.2L501.5 960.1L503.0 960.1L504.5 960.0L506.0 960.0L507.5 959.9L509.0 959.9L510.5 959.8L512.0 959.8L513.5 959.7L515.0 959.7L516.5 959.6L518.1 959.6L519.6 959.6L521.1 959.6L522.6 959.6L524.1 959.6L525.6 959.6L527.1 959.6L528.6 959.6L530.1 959.6L531.6 959.6L533.1 959.6L534.6 959.6L536.1 959.6L537.6 959.6L539.1 959.6L540.6 959.6L542.1 959.6L543.6 959.7L545.1 959.7L546.6 959.7L548.1 959.7L549.6 959.7L551.1 959.7L552.6 959.7L554.1 959.7L555.6 959.7L557.1 959.7L558.6 959.7L560.1 959.7L561.6 959.8L563.1 959.8L564.6 959.8L566.1 959.8L567.6 959.8L569.1 959.8L570.6 959.8L572.1 959.8L573.6 959.8L575.1 959.9L576.6 959.9L578.1 959.9L579.6 959.9L581.1 959.9L582.6 959.9L584.1 959.9L585.6 959.9L587.1 960.0L588.6 960.0L590.1 960.0L591.6 960.0L593.1 960.0L594.6 960.0L596.1 960.0L597.6 960.1L599.2 960.1L600.7 960.1L602.2 960.1L603.7 960.1L605.2 960.1L606.7 960.1L608.2 960.1L609.7 960.2L611.2 960.2L612.7 960.2L614.2 960.2L615.7 960.2L617.2 960.2L618.7 960.2L620.2 960.2L621.7 960.3L623.2 960.3L624.7 960.3L626.2 960.3L627.7 960.3L629.2 960.3L630.7 960.3L632.2 960.3L633.7 960.4L635.2 960.4L636.7 960.4L638.2 960.4L639.7 960.4L641.2 960.4L642.7 960.4L644.2 960.4L645.7 960.4L647.2 960.4L648.7 960.5L650.2 960.5L651.7 960.5L653.2 960.5L654.7 960.5L656.2 960.5L657.7 960.5L659.2 960.5L660.7 960.5L662.2 960.6L663.7 960.6L665.2 960.6L666.7 960.6L668.2 960.6L669.7 960.6L671.2 960.6L672.7 960.6L674.2 960.6L675.7 960.7L677.3 960.7L678.8 960.7L680.3 960.7L681.8 960.7L683.3 960.7L684.8 960.7L686.3 960.7L687.8 960.7L689.3 960.8L690.8 960.8L692.3 960.8L693.8 960.8L695.3 960.8L696.8 960.8L698.3 960.8L699.8 960.8L701.3 960.8L702.8 960.9L704.3 960.9L705.8 960.9L707.3 960.9L708.8 960.9L710.3 960.9L711.8 960.9L713.3 960.9L714.8 960.9L716.3 961.0L717.8 961.0L719.3 961.0L720.8 961.0L722.3 961.0L723.8 961.0L725.3 961.0L726.8 961.0L728.3 961.0L729.8 961.0L731.3 961.1L732.8 961.1L734.3 961.1L735.8 961.1L737.3 961.1L738.8 961.1L740.3 961.1L741.8 961.1L743.3 961.1L744.8 961.1L746.3 961.1L747.8 961.1L749.3 961.2L750.8 961.2L752.3 961.2L753.8 961.2L755.3 961.2L756.9 961.2L758.4 961.2L759.9 961.2L761.4 961.2L762.9 961.2L764.4 961.2L765.9 961.2L767.4 961.2L768.9 961.2L770.4 961.2L771.9 961.2L773.4 961.3L774.9 961.3L776.4 961.3L777.9 961.3L779.4 961.3L780.9 961.3L782.4 961.3L783.9 961.3L785.4 961.3L786.9 961.3L788.4 961.3L789.9 961.3L791.4 961.3L792.9 961.3L794.4 961.3L795.9 961.3L797.4 961.4L798.9 961.4L800.4 961.4L801.9 961.4L803.4 961.4L804.9 961.4L806.4 961.4L807.9 961.4L809.4 961.4L810.9 961.4L812.4 961.4L813.9 961.4L815.4 961.4L816.9 961.4L818.4 961.4L819.9 961.4L821.4 961.4L822.9 961.4L824.4 961.5L825.9 961.5L827.4 961.5L828.9 961.5L830.4 961.5L831.9 961.5L833.4 961.5L835.0 961.5L836.5 961.5L838.0 961.5L839.5 961.5L841.0 961.5L842.5 961.5L844.0 961.5L845.5 961.5L847.0 961.5L848.5 961.5L850.0 961.5L851.5 961.5L853.0 961.5L854.5 961.5L856.0 961.5L857.5 961.5L859.0 961.6L860.5 961.6L862.0 961.6L863.5 961.6L865.0 961.6L866.5 961.6L868.0 961.6L869.5 961.6L871.0 961.6L872.5 961.6L874.0 961.6L875.5 961.6L877.0 961.6L878.5 961.6L880.0 961.6L881.5 961.6L883.0 961.6L884.5 961.6L886.0 961.6L887.5 961.6L889.0 961.6L890.5 961.6L892.0 961.6L893.5 961.6L895.0 961.6L896.5 961.6L898.0 961.6L899.5 961.6L901.0 961.6L902.5 961.6L904.0 961.6L905.5 961.6L907.0 961.6L908.5 961.6L910.0 961.6L911.5 961.6L913.0 961.6L914.6 961.6L916.1 961.6L917.6 961.6L919.1 961.6L920.6 961.6L922.1 961.6L923.6 961.6L925.1 961.6L926.6 961.6L928.1 961.6L929.6 961.6L931.1 961.6L932.6 961.6L934.1 961.6L935.6 961.6L937.1 961.6L938.6 961.6L940.1 961.5L941.6 961.5L943.1 961.5L944.6 961.5L946.1 961.5L947.6 961.5L949.1 961.5L950.6 961.5L952.1 961.5L953.6 961.5L955.1 961.5L956.6 961.5L958.1 961.5L959.6 961.5L961.1 961.5L962.6 961.5L964.1 961.5L965.6 961.5L967.1 961.5L968.6 961.5L970.1 961.5L971.6 961.5L973.1 961.5L974.6 961.4L976.1 961.4L977.6 961.4L979.1 961.4L980.6 961.4L982.1 961.4L983.6 961.4L985.1 961.4L986.6 961.4L988.1 961.4L989.6 961.4L991.1 961.4L992.7 961.4L994.2 961.4L995.7 961.4L997.2 961.4L998.7 961.4L1000.2 961.3L1001.7 961.3L1003.2 961.3L1004.7 961.3L1006.2 961.3L1007.7 961.3L1009.2 961.3L1010.7 961.3L1012.2 961.3L1013.7 961.3L1015.2 961.3L1016.7 961.3L1018.2 961.3L1019.7 961.3L1021.2 961.3L1022.7 961.3L1024.2 961.2L1025.7 961.2L1027.2 961.2L1028.7 961.2L1030.2 961.2L1031.7 961.2L1033.2 961.2L1034.7 961.2L1036.2 961.2L1037.7 961.2L1039.2 961.2L1040.7 961.2L1042.2 961.2L1043.7 961.2L1045.2 961.2L1046.7 961.2L1048.2 961.1L1049.7 961.1L1051.2 961.1L1052.7 961.1L1054.2 961.1L1055.7 961.1L1057.2 961.1L1058.7 961.1L1060.2 961.1L1061.7 961.1L1063.2 961.1L1064.7 961.1L1066.2 961.1L1067.7 961.1L1069.2 961.1L1070.8 961.1L1072.3 961.1L1073.8 961.0L1075.3 961.0L1076.8 961.0L1078.3 961.0L1079.8 961.0L1081.3 961.0L1082.8 961.0L1084.3 961.0L1085.8 961.0L1087.3 961.0L1088.8 961.0L1090.3 961.0L1091.8 961.0L1093.3 961.0L1094.8 961.0L1096.3 961.0L1097.8 960.9L1099.3 960.9L1100.8 960.9L1102.3 960.9L1103.8 960.9L1105.3 960.9L1106.8 960.9L1108.3 960.9L1109.8 960.9L1111.3 960.9L1112.8 960.9L1114.3 960.9L1115.8 960.9L1117.3 960.9L1118.8 960.9L1120.3 960.9L1121.8 960.8L1123.3 960.8L1124.8 960.8L1126.3 960.8L1127.8 960.8L1129.3 960.8L1130.8 960.8L1132.3 960.8L1133.8 960.8L1135.3 960.8L1136.8 960.8L1138.3 960.8L1139.8 960.8L1141.3 960.8L1142.8 960.7L1144.3 960.7L1145.8 960.7L1147.3 960.7L1148.8 960.7L1150.4 960.7L1151.9 960.7L1153.4 960.7L1154.9 960.7L1156.4 960.7L1157.9 960.7L1159.4 960.7L1160.9 960.7L1162.4 960.7L1163.9 960.6L1165.4 960.6L1166.9 960.6L1168.4 960.6L1169.9 960.6L1171.4 960.6L1172.9 960.6L1174.4 960.6L1175.9 960.6L1177.4 960.6L1178.9 960.6L1180.4 960.6L1181.9 960.6L1183.4 960.6L1184.9 960.5L1186.4 960.5L1187.9 960.5L1189.4 960.5L1190.9 960.5L1192.4 960.5L1193.9 960.5L1195.4 960.5L1196.9 960.5L1198.4 960.5L1199.9 960.5L1201.4 960.5L1202.9 960.5L1204.4 960.4L1205.9 960.4L1207.4 960.4L1208.9 960.4L1210.4 960.4L1211.9 960.4L1213.4 960.4L1214.9 960.4L1216.4 960.4L1217.9 960.4L1219.4 960.4L1220.9 960.4L1222.4 960.3L1223.9 960.3L1225.4 960.3L1226.9 960.3L1228.5 960.3L1230.0 960.3L1231.5 960.3L1233.0 960.3L1234.5 960.3L1236.0 960.3L1237.5 960.3L1239.0 960.3L1240.5 960.3L1242.0 960.2L1243.5 960.2L1245.0 960.2L1246.5 960.2L1248.0 960.2L1249.5 960.2L1251.0 960.2L1252.5 960.2L1254.0 960.2L1255.5 960.2L1257.0 960.2L1258.5 960.2L1260.0 960.1L1261.5 960.1L1263.0 960.1L1264.5 960.1L1266.0 960.1L1267.5 960.1L1269.0 960.1L1270.5 960.1L1272.0 960.1L1273.5 960.1L1275.0 960.1L1276.5 960.0L1278.0 960.0L1279.5 960.0L1281.0 960.0L1282.5 960.0L1284.0 960.0L1285.5 960.0L1287.0 960.0L1288.5 960.0L1290.0 960.0L1291.5 960.0L1293.0 959.9L1294.5 959.9L1296.0 959.9L1297.5 959.9L1299.0 959.9L1300.5 959.9L1302.0 959.9L1303.5 959.9L1305.0 959.9L1306.5 959.9L1308.1 959.8L1309.6 959.8L1311.1 959.8L1312.6 959.8L1314.1 959.8L1315.6 959.8L1317.1 959.8L1318.6 959.8L1320.1 959.8L1321.6 959.8L1323.1 959.7L1324.6 959.7L1326.1 959.7L1327.6 959.7L1329.1 959.7L1330.6 959.7L1332.1 959.7L1333.6 959.7L1335.1 959.7L1336.6 959.7L1338.1 959.6L1339.6 959.6L1341.1 959.6L1342.6 959.6L1344.1 959.6L1345.6 959.6L1347.1 959.6L1348.6 959.6L1350.1 959.6L1351.6 959.5L1353.1 959.5L1354.6 959.5L1356.1 959.5L1357.6 959.5L1359.1 959.5L1360.6 959.5L1362.1 959.5L1363.6 959.5L1365.1 959.5L1366.6 959.4L1368.1 959.4L1369.6 959.4L1371.1 959.4L1372.6 959.4L1374.1 959.4L1375.6 959.4L1377.1 959.4L1378.6 959.4L1380.1 959.4L1381.6 959.3L1383.1 959.3L1384.6 959.3L1386.1 959.3L1387.7 959.3L1389.2 959.3L1390.7 959.3L1392.2 959.3L1393.7 959.3L1395.2 959.2L1396.7 959.2L1398.2 959.2L1399.7 959.2L1401.2 959.2L1402.7 959.2L1404.2 959.2L1405.7 959.2L1407.2 959.2L1408.7 959.2L1410.2 959.1L1411.7 959.1L1413.2 959.1L1414.7 959.1L1416.2 959.1L1417.7 959.1L1419.2 959.1L1420.7 959.1L1422.2 959.1L1423.7 959.1L1425.2 959.1L1426.7 959.0L1428.2 959.0L1429.7 959.0L1431.2 959.0L1432.7 959.0L1434.2 959.0L1435.7 959.0L1437.2 959.0L1438.7 959.0L1440.2 959.0L1441.7 958.9L1443.2 958.9L1444.7 958.9L1446.2 958.9L1447.7 958.9L1449.2 958.9L1450.7 958.9L1452.2 958.9L1453.7 958.9L1455.2 958.9L1456.7 958.9L1458.2 958.9L1459.7 958.8L1461.2 958.8L1462.7 958.8L1464.2 958.8L1465.7 958.8L1467.3 958.8L1468.8 958.8L1470.3 958.8L1471.8 958.8L1473.3 958.8L1474.8 958.8L1476.3 958.7L1477.8 958.7L1479.3 958.7L1480.8 958.7L1482.3 958.7L1483.8 958.7L1485.3 958.7L1486.8 958.7L1488.3 958.7L1489.8 958.7L1491.3 958.7L1492.8 958.7L1494.3 958.6L1495.8 958.6L1497.3 958.6L1498.8 958.6L1500.3 958.6L1501.8 958.6L1503.3 958.6L1504.8 958.6L1506.3 958.6L1507.8 958.6L1509.3 958.6L1510.8 958.6L1512.3 958.6L1513.8 958.5L1515.3 958.5L1516.8 958.5L1518.3 958.5L1519.8 958.5L1521.3 958.5L1522.8 958.5L1524.3 958.5L1525.8 958.5L1527.3 958.5L1528.8 958.5L1530.3 958.5L1531.8 958.4L1533.3 958.4L1534.8 958.4L1536.3 958.4L1537.8 958.4L1539.3 958.4L1540.8 958.4L1542.3 958.4L1543.8 958.4L1545.3 958.4L1546.9 958.4L1548.4 958.4L1549.9 958.4L1551.4 958.3L1552.9 958.3L1554.4 958.3L1555.9 958.3L1557.4 958.3L1558.9 958.3L1560.4 958.3L1561.9 958.3L1563.4 958.3L1564.9 958.3L1566.4 958.3L1567.9 958.3L1569.4 958.3L1570.9 958.2L1572.4 958.2L1573.9 958.2L1575.4 958.2L1576.9 958.2L1578.4 958.2L1579.9 958.2L1581.4 958.2L1582.9 958.2L1584.4 958.2L1585.9 958.2L1587.4 958.2L1588.9 958.2L1590.4 958.1L1591.9 958.1L1593.4 958.1L1594.9 958.1L1596.4 958.1L1597.9 958.1L1599.4 958.1L1600.9 958.1L1602.4 958.1L1603.9 958.1L1605.4 958.1L1606.9 958.1L1608.4 958.1L1609.9 958.1L1611.4 958.0L1612.9 958.0L1614.4 958.0L1615.9 958.0L1617.4 958.0L1618.9 958.0L1620.4 958.0L1621.9 958.0L1623.4 958.0L1625.0 958.0L1626.5 958.0L1628.0 958.0L1629.5 958.0L1631.0 958.0L1632.5 957.9L1634.0 957.9L1635.5 957.9L1637.0 957.9L1638.5 957.9L1640.0 957.9L1641.5 957.9L1643.0 957.9L1644.5 957.9L1646.0 957.9L1647.5 957.9L1649.0 957.9L1650.5 957.9L1652.0 957.9L1653.5 957.8L1655.0 957.8L1656.5 957.8L1658.0 957.8L1659.5 957.8L1661.0 957.8L1662.5 957.8L1664.0 957.8"/>
<path stroke="#7B4B4B" d="M333.5 0.0L333.6 1.5L333.6 3.0L333.7 4.5L333.7 6.0L333.8 7.5L333.8 9.0L333.9 10.5L333.9 12.0L334.0 13.5L334.0 15.0L334.1 16.5L334.1 18.0L334.2 19.5L334.2 21.0L334.3 22.5L334.3 24.0L334.4 25.5L334.4 27.0L334.5 28.5L334.6 30.0L334.6 31.5L334.7 33.0L334.7 34.5L334.8 36.0L334.8 37.5L334.9 39.0L334.9 40.5L335.0 42.0L335.0 43.5L335.1 45.0L335.1 46.5L335.2 48.0L335.3 49.5L335.3 51.0L335.4 52.5L335.4 54.0L335.5 55.5L335.5 57.0L335.6 58.5L335.6 60.0L335.7 61.5L335.7 63.0L335.8 64.5L335.9 66.0L335.9 67.5L336.0 69.0L336.0 70.5L336.1 72.0L336.1 73.5L336.2 75.0L336.2 76.5L336.3 78.0L336.4 79.5L336.4 81.0L336.5 82.5L336.5 84.0L336.6 85.5L336.6 87.0L336.7 88.5L336.7 90.0L336.8 91.5L336.9 93.0L336.9 94.5L337.0 96.0L337.0 97.5L337.1 99.0L337.1 100.5L337.2 102.0L337.2 103.5L337.3 105.0L337.4 106.5L337.4 108.0L337.5 109.5L337.5 111.0L337.6 112.5L337.6 114.0L337.7 115.5L337.8 117.0L337.8 118.5L337.9 120.0L337.9 121.5L338.0 123.0L338.0 124.5L338.1 126.0L338.1 127.5L338.2 129.0L338.3 130.5L338.3 132.0L338.4 133.5L338.4 135.0L338.5 136.5L338.5 138.0L338.6 139.5L338.7 141.0L338.7 142.5L338.8 144.0L338.8 145.5L338.9 147.0L338.9 148.5L339.0 150.0L339.1 151.5L339.1 153.0L339.2 154.5L339.2 156.0L339.3 157.5L339.3 159.0L339.4 160.5L339.4 162.0L339.5 163.5L339.6 165.0L339.6 166.5L339.7 168.0L339.7 169.5L339.8 171.0L339.8 172.5L339.9 174.0L340.0 175.5L340.0 177.0L340.1 178.5L340.1 180.0L340.2 181.5L340.2 183.0L340.3 184.5L340.4 186.0L340.4 187.5L340.5 189.0L340.5 190.5L340.6 192.0L340.6 193.5L340.7 195.0L340.7 196.5L340.8 198.0L340.9 199.5L340.9 201.0L341.0 202.5L341.0 204.0L341.1 205.5L341.1 207.0L341.2 208.5L341.3 210.0L341.3 211.5L341.4 213.0L341.4 214.5L341.5 216.0L341.5 217.5L341.6 219.0L341.6 220.5L341.7 222.0L341.8 223.5L341.8 225.0L341.9 226.5L341.9 228.0L342.0 229.5L342.0 231.0L342.1 232.5L342.1 234.0L342.2 235.5L342.3 237.0L342.3 238.5L342.4 240.0L342.4 241.5L342.5 243.0L342.5 244.5L342.6 246.0L342.7 247.5L342.7 249.0L342.8 250.5L342.8 252.0L342.9 253.5L342.9 255.0L343.0 256.5L343.1 258.0L343.1 259.5L343.2 261.0L343.2 262.5L343.3 264.0L343.3 265.5L343.4 267.0L343.5 268.5L343.5 270.0L343.6 271.5L343.6 273.0L343.7 274.5L343.8 276.0L343.8 277.5L343.9 279.0L343.9 280.5L344.0 282.0L344.0 283.5L344.1 285.0L344.2 286.5L344.2 288.0L344.3 289.5L344.3 291.0L344.4 292.5L344.4 294.0L344.5 295.5L344.6 297.0L344.6 298.5L344.7 300.0L344.7 301.5L344.8 303.0L344.9 304.5L344.9 306.0L345.0 307.5L345.0 309.0L345.1 310.5L345.1 312.0L345.2 313.5L345.3 315.0L345.3 316.5L345.4 318.0L345.4 319.5L345.5 321.0L345.6 322.5L345.6 324.0L345.7 325.5L345.7 327.0L345.8 328.5L345.8 330.0L345.9 331.5L346.0 333.0L346.0 334.5L346.1 336.0L346.1 337.5L346.2 339.0L346.2 340.5L346.3 342.0L346.3 343.5L346.4 345.0L346.5 346.5L346.5 348.0L346.6 349.5L346.6 351.0L346.7 352.5L346.7 354.0L346.8 355.5L346.8 357.0L346.9 358.5L347.0 360.0L347.0 361.5L347.1 363.0L347.1 364.5L347.2 366.0L347.2 367.5L347.3 369.0L347.3 370.5L347.4 372.0L347.4 373.5L347.5 375.0L347.6 376.5L347.6 378.0L347.7 379.5L347.7 381.0L347.8 382.5L347.8 384.0L347.9 385.5L347.9 387.0L348.0 388.5L348.0 390.0L348.1 391.5L348.1 393.0L348.2 394.5L348.2 396.0L348.3 397.5L348.3 399.0L348.4 400.5L348.4 402.0L348.5 403.5L348.5 405.0L348.6 406.5L348.6 408.0L348.7 409.5L348.7 411.0L348.8 412.5L348.8 414.0L348.9 415.5L348.9 417.0L349.0 418.5L349.0 420.0L349.0 421.5L349.1 423.0L349.1 424.5L349.2 426.0L349.2 427.5L349.3 429.0L349.3 430.5L349.4 432.0L349.4 433.5L349.4 435.0L349.5 436.5L349.5 438.0L349.6 439.5L349.6 441.0L349.7 442.5L349.7 444.0L349.7 445.5L349.8 447.0L349.8 448.5L349.9 450.0L349.9 451.5L350.0 453.0L350.0 454.5L350.0 456.0L350.1 457.5L350.1 459.0L350.2 460.5L350.2 462.0L350.2 463.5L350.3 465.0L350.3 466.5L350.4 468.0L350.4 469.5L350.4 471.0L350.5 472.5L350.5 474.0L350.5 475.5L350.6 477.0L350.6 478.5L350.7 480.0L350.7 481.5L350.7 483.0L350.8 484.5L350.8 486.0L350.8 487.5L350.9 489.0L350.9 490.5L351.0 492.0L351.0 493.5L351.0 495.0L351.1 496.5L351.1 498.0L351.1 499.5L351.2 501.0L351.2 502.5L351.3 504.0L351.3 505.5L351.3 507.0L351.4 508.5L351.4 510.0L351.4 511.5L351.5 513.0L351.5 514.5L351.6 516.0L351.6 517.5L351.6 519.0L351.7 520.5L351.7 522.0L351.7 523.5L351.8 525.0L351.8 526.5L351.8 528.0L351.9 529.5L351.9 531.0L352.0 532.5L352.0 534.0L352.0 535.5L352.1 537.0L352.1 538.5L352.2 540.0L352.2 541.5L352.2 543.0L352.3 544.5L352.3 546.0L352.3 547.5L352.4 549.0L352.4 550.5L352.5 552.0L352.5 553.5L352.5 555.0L352.6 556.5L352.6 558.0L352.7 559.5L352.7 561.0L352.7 562.5L352.8 564.0L352.8 565.5L352.9 567.0L352.9 568.5L352.9 570.0L353.0 571.5L353.0 573.0L353.1 574.5L353.1 576.0L353.1 577.5L353.2 579.0L353.2 580.5L353.3 582.0L353.3 583.5L353.4 585.0L353.4 586.5L353.4 588.0L353.5 589.5L353.5 591.0L353.6 592.5L353.6 594.0L353.7 595.5L353.7 597.0L353.8 598.5L353.8 600.0L353.8 601.5L353.9 603.0L353.9 604.5L354.0 606.0L354.0 607.5L354.1 609.0L354.1 610.5L354.2 612.0L354.2 613.5L354.3 615.0L354.3 616.5L354.4 618.0L354.4 619.5L354.5 621.0L354.5 622.5L354.6 624.0L354.6 625.5L354.7 627.0L354.7 628.5L354.8 630.0L354.8 631.5L354.9 633.0L354.9 634.5L355.0 636.0L355.0 637.5L355.1 639.0L355.1 640.5L355.2 642.0L355.2 643.5L355.3 645.0L355.4 646.5L355.4 648.0L355.5 649.5L355.5 651.0L355.6 652.5L355.6 654.0L355.7 655.5L355.7 657.0L355.8 658.5L355.8 660.0L355.9 661.5L356.0 663.0L356.0 664.5L356.1 666.0L356.1 667.5L356.2 669.0L356.2 670.5L356.3 672.0L356.3 673.5L356.4 675.0L356.5 676.5L356.5 678.0L356.6 679.5L356.6 681.0L356.7 682.5L356.7 684.0L356.8 685.5L356.9 687.0L356.9 688.5L357.0 690.0L357.0 691.5L357.1 693.0L357.1 694.5L357.2 696.0L357.3 697.5L357.3 699.0L357.4 700.5L357.4 702.0L357.5 703.5L357.5 705.0L357.6 706.5L357.7 708.0L357.7 709.5L357.8 711.0L357.8 712.5L357.9 714.0L357.9 715.5L358.0 717.0L358.0 718.5L358.1 720.0L358.2 721.5L358.2 723.0L358.3 724.5L358.3 726.0L358.4 727.5L358.4 729.0L358.5 730.5L358.6 732.0L358.6 733.5L358.7 735.0L358.7 736.5L358.8 738.0L358.8 739.5L358.9 741.0L359.0 742.5L359.0 744.0L359.1 745.5L359.1 747.0L359.2 748.5L359.2 750.0L359.3 751.5L359.3 753.0L359.4 754.5L359.4 756.0L359.5 757.5L359.6 759.0L359.6 760.5L359.7 762.0L359.7 763.5L359.8 765.0L359.8 766.5L359.9 768.0L359.9 769.5L360.0 771.0L360.0 772.5L360.1 774.0L360.1 775.5L360.2 777.0L360.2 778.5L360.3 780.0L360.4 781.5L360.4 783.0L360.5 784.5L360.5 786.0L360.5 787.5L360.6 789.0L360.6 790.5L360.7 792.0L360.7 793.5L360.8 795.0L360.8 796.5L360.9 798.0L360.9 799.5L361.0 801.0L361.0 802.5L361.1 804.0L361.1 805.5L361.1 807.0L361.2 808.5L361.2 810.1L361.3 811.6L361.3 813.1L361.4 814.6L361.4 816.1L361.5 817.6L361.5 819.1L361.6 820.6L361.6 822.1L361.6 823.6L361.7 825.1L361.7 826.6L361.8 828.1L361.9 829.6L361.9 831.1L362.0 832.6L362.0 834.1L362.1 835.6L362.1 837.1L362.2 838.6L362.2 840.1L362.3 841.6L362.4 843.1L362.4 844.5L362.5 846.0L362.6 847.5L362.6 849.0L362.7 850.5L362.8 852.0L362.9 853.5L362.9 855.0L363.0 856.5L363.1 858.0L363.2 859.5L363.2 861.0L363.3 862.5L363.4 864.0L363.5 865.5L363.6 867.0L363.7 868.5L363.8 870.0L363.8 871.5L363.9 873.0L364.0 874.5L364.1 876.0L364.2 877.5L364.3 879.0L364.4 880.5L364.6 882.0L364.7 883.5L364.8 885.0L364.9 886.5L365.0 888.0L365.1 889.5L365.2 891.0L365.4 892.5L365.5 894.0L365.6 895.5L365.7 897.0L365.9 898.5L366.0 900.0L366.1 901.5L366.3 903.0L366.4 904.5L366.5 906.0L366.7 907.5L366.8 909.0L367.0 910.5L367.1 912.1L367.3 913.6L367.5 915.1L367.7 916.6L367.9 918.1L368.1 919.6L368.3 921.1L368.5 922.5L368.8 924.0L369.0 925.5L369.3 926.9L369.6 928.3L369.9 929.7L370.3 931.2L370.8 932.9L371.4 934.6L372.0 936.4L372.7 938.1L373.5 939.7L374.3 941.1L375.1 942.2L375.9 942.9L376.7 943.2L377.6 942.9L378.5 942.1L379.4 940.9L380.4 939.4L381.4 937.8L382.2 936.3L383.1 934.9L383.8 933.6L384.5 932.3L385.2 931.0L385.8 929.6L386.5 928.2L387.1 926.9L387.7 925.5L388.3 924.1L388.9 922.7L389.6 921.4L390.2 920.0L390.8 918.7L391.5 917.3L392.1 915.9L392.7 914.6L393.4 913.2L394.0 911.9L394.6 910.5L395.3 909.1L395.9 907.8L396.5 906.4L397.2 905.1L397.8 903.7L398.5 902.3L399.1 901.0L399.8 899.6L400.4 898.3L401.1 896.9L401.7 895.6L402.4 894.2L403.0 892.9L403.7 891.5L404.3 890.2L405.0 888.8L405.6 887.5L406.3 886.1L406.9 884.8L407.6 883.4L408.2 882.0L408.9 880.7L409.5 879.3L410.2 878.0L410.8 876.6L411.5 875.3L412.1 873.9L412.8 872.6L413.4 871.2L414.1 869.9L414.7 868.5L415.4 867.2L416.0 865.8L416.7 864.5L417.3 863.1L418.0 861.8L418.7 860.4L419.3 859.1L420.0 857.7L420.7 856.4L421.4 855.1L422.1 853.8L422.8 852.4L423.5 851.1L424.3 849.8L425.0 848.5L425.7 847.2L426.4 845.8L427.0 844.5L427.7 843.1L428.4 841.8L429.1 840.4L429.8 839.1L430.6 837.9L431.4 836.6L432.3 835.3L433.4 834.4L434.7 833.5L436.1 833.4L437.3 834.4L438.2 835.6L439.0 836.9L439.6 838.3L440.2 839.7L440.8 841.0L441.3 842.4L441.8 843.8L442.3 845.3L442.7 846.7L443.2 848.1L443.6 849.6L444.0 851.0L444.5 852.5L444.9 853.9L445.3 855.4L445.7 856.8L446.2 858.3L446.6 859.7L447.1 861.1L447.5 862.6L448.0 864.0L448.5 865.4L448.9 866.8L449.4 868.3L449.8 869.7L450.3 871.1L450.7 872.6L451.2 874.0L451.6 875.4L452.1 876.9L452.5 878.3L453.0 879.7L453.4 881.2L453.8 882.6L454.3 884.0L454.7 885.5L455.1 886.9L455.5 888.4L455.8 889.8L456.2 891.3L456.5 892.7L456.9 894.2L457.2 895.7L457.5 897.1L457.8 898.6L458.2 900.1L458.5 901.5L458.8 903.0L459.0 904.5L459.3 906.0L459.6 907.4L459.9 908.9L460.2 910.4L460.5 911.9L460.8 913.3L461.1 914.8L461.4 916.3L461.7 917.8L462.0 919.2L462.3 920.7L462.6 922.2L462.9 923.6L463.2 925.1L463.6 926.6L463.9 928.0L464.3 929.5L464.6 931.0L465.0 932.4L465.3 934.0L465.6 935.5L466.0 937.0L466.3 938.5L466.6 940.0L467.0 941.6L467.4 943.1L467.7 944.6L468.1 946.0L468.5 947.5L468.9 949.0L469.4 950.4L469.9 951.8L470.4 953.2L470.9 954.5L471.4 955.8L472.0 957.0L472.6 958.3L473.4 959.6L474.3 961.0L475.3 962.4L476.5 963.8L477.6 964.9L478.8 965.8L480.0 966.2L481.2 966.2L482.4 965.7L483.6 964.8L484.9 963.7L486.2 962.6L487.5 961.6L488.9 960.8L490.2 960.6L491.6 960.5L493.0 960.5L494.5 960.4L495.9 960.4L497.4 960.3L498.9 960.3L500.4 960.2L501.9 960.2L503.4 960.2L504.9 960.1L506.5 960.1L508.0 960.1L509.6 960.1L511.1 960.0L512.6 960.0L514.2 960.0L515.7 960.0L517.2 960.0L518.8 960.0L520.3 960.0L521.8 960.0L523.3 960.0L524.8 960.0L526.3 960.0L527.8 960.0L529.3 960.0L530.8 960.0L532.3 960.0L533.8 960.0L535.3 960.0L536.8 960.0L538.3 960.0L539.8 960.0L541.3 960.0L542.8 960.1L544.3 960.1L545.8 960.1L547.3 960.1L548.8 960.1L550.3 960.1L551.8 960.1L553.3 960.1L554.8 960.1L556.3 960.1L557.8 960.1L559.3 960.1L560.8 960.2L562.3 960.2L563.8 960.2L565.3 960.2L566.8 960.2L568.3 960.2L569.8 960.2L571.3 960.2L572.8 960.2L574.3 960.3L575.8 960.3L577.3 960.3L578.8 960.3L580.3 960.3L581.8 960.3L583.3 960.3L584.8 960.3L586.3 960.4L587.8 960.4L589.3 960.4L590.8 960.4L592.3 960.4L593.8 960.4L595.3 960.4L596.8 960.4L598.3 960.5L599.8 960.5L601.3 960.5L602.8 960.5L604.3 960.5L605.8 960.5L607.3 960.5L608.8 960.6L610.3 960.6L611.8 960.6L613.3 960.6L614.8 960.6L616.3 960.6L617.8 960.6L619.3 960.6L620.8 960.7L622.3 960.7L623.8 960.7L625.3 960.7L626.8 960.7L628.3 960.7L629.8 960.7L631.3 960.7L632.8 960.7L634.3 960.8L635.8 960.8L637.3 960.8L638.8 960.8L640.3 960.8L641.8 960.8L643.3 960.8L644.8 960.8L646.3 960.8L647.9 960.9L649.4 960.9L650.9 960.9L652.4 960.9L653.9 960.9L655.4 960.9L656.9 960.9L658.4 960.9L659.9 960.9L661.4 961.0L662.9 961.0L664.4 961.0L665.9 961.0L667.4 961.0L668.9 961.0L670.4 961.0L671.9 961.0L673.4 961.0L674.9 961.1L676.4 961.1L677.9 961.1L679.4 961.1L680.9 961.1L682.4 961.1L683.9 961.1L685.4 961.1L686.9 961.1L688.4 961.2L689.9 961.2L691.4 961.2L692.9 961.2L694.4 961.2L695.9 961.2L697.4 961.2L698.9 961.2L700.4 961.2L701.9 961.3L703.4 961.3L704.9 961.3L706.4 961.3L707.9 961.3L709.4 961.3L710.9 961.3L712.4 961.3L713.9 961.3L715.4 961.3L716.9 961.4L718.4 961.4L719.9 961.4L721.4 961.4L722.9 961.4L724.4 961.4L725.9 961.4L727.4 961.4L728.9 961.4L730.4 961.4L731.9 961.5L733.4 961.5L734.9 961.5L736.4 961.5L737.9 961.5L739.4 961.5L740.9 961.5L742.4 961.5L743.9 961.5L745.4 961.5L746.9 961.5L748.4 961.5L749.9 961.6L751.4 961.6L752.9 961.6L754.4 961.6L755.9 961.6L757.4 961.6L758.9 961.6L760.4 961.6L761.9 961.6L763.4 961.6L764.9 961.6L766.4 961.6L767.9 961.6L769.4 961.6L770.9 961.6L772.4 961.7L773.9 961.7L775.4 961.7L776.9 961.7L778.4 961.7L779.9 961.7L781.4 961.7L782.9 961.7L784.4 961.7L785.9 961.7L787.4 961.7L788.9 961.7L790.4 961.7L791.9 961.7L793.4 961.7L794.9 961.7L796.4 961.7L797.9 961.8L799.4 961.8L800.9 961.8L802.4 961.8L803.9 961.8L805.4 961.8L807.0 961.8L808.5 961.8L810.0 961.8L811.5 961.8L813.0 961.8L814.5 961.8L816.0 961.8L817.5 961.8L819.0 961.8L820.5 961.8L822.0 961.8L823.5 961.8L825.0 961.9L826.5 961.9L828.0 961.9L829.5 961.9L831.0 961.9L832.5 961.9L834.0 961.9L835.5 961.9L837.0 961.9L838.5 961.9L840.0 961.9L841.5 961.9L843.0 961.9L844.5 961.9L846.0 961.9L847.5 961.9L849.0 961.9L850.5 961.9L852.0 961.9L853.5 961.9L855.0 961.9L856.5 961.9L858.0 961.9L859.5 962.0L861.0 962.0L862.5 962.0L864.0 962.0L865.5 962.0L867.0 962.0L868.5 962.0L870.0 962.0L871.5 962.0L873.0 962.0L874.5 962.0L876.0 962.0L877.5 962.0L879.0 962.0L880.5 962.0L882.0 962.0L883.5 962.0L885.0 962.0L886.5 962.0L888.0 962.0L889.5 962.0L891.0 962.0L892.5 962.0L894.0 962.0L895.5 962.0L897.0 962.0L898.5 962.0L900.0 962.0L901.5 962.0L903.0 962.0L904.5 962.0L906.0 962.0L907.5 962.0L909.0 962.0L910.5 962.0L912.0 962.0L913.5 962.0L915.0 962.0L916.5 962.0L918.0 962.0L919.5 962.0L921.0 962.0L922.5 962.0L924.0 962.0L925.5 962.0L927.0 962.0L928.5 962.0L930.0 962.0L931.5 962.0L933.0 962.0L934.5 962.0L936.0 962.0L937.5 962.0L939.0 962.0L940.5 961.9L942.0 961.9L943.5 961.9L945.0 961.9L946.5 961.9L948.0 961.9L949.5 961.9L951.0 961.9L952.5 961.9L954.0 961.9L955.5 961.9L957.0 961.9L958.5 961.9L960.1 961.9L961.6 961.9L963.1 961.9L964.6 961.9L966.1 961.9L967.6 961.9L969.1 961.9L970.6 961.9L972.1 961.9L973.6 961.8L975.1 961.8L976.6 961.8L978.1 961.8L979.6 961.8L981.1 961.8L982.6 961.8L984.1 961.8L985.6 961.8L987.1 961.8L988.6 961.8L990.1 961.8L991.6 961.8L993.1 961.8L994.6 961.8L996.1 961.8L997.6 961.8L999.1 961.7L1000.6 961.7L1002.1 961.7L1003.6 961.7L1005.1 961.7L1006.6 961.7L1008.1 961.7L1009.6 961.7L1011.1 961.7L1012.6 961.7L1014.1 961.7L1015.6 961.7L1017.1 961.7L1018.6 961.7L1020.1 961.7L1021.6 961.7L1023.1 961.6L1024.6 961.6L1026.1 961.6L1027.6 961.6L1029.1 961.6L1030.6 961.6L1032.1 961.6L1033.6 961.6L1035.1 961.6L1036.6 961.6L1038.1 961.6L1039.6 961.6L1041.1 961.6L1042.6 961.6L1044.1 961.6L1045.6 961.6L1047.1 961.6L1048.6 961.5L1050.1 961.5L1051.6 961.5L1053.1 961.5L1054.6 961.5L1056.1 961.5L1057.6 961.5L1059.1 961.5L1060.6 961.5L1062.1 961.5L1063.6 961.5L1065.1 961.5L1066.6 961.5L1068.1 961.5L1069.6 961.5L1071.1 961.5L1072.6 961.5L1074.1 961.4L1075.6 961.4L1077.1 961.4L1078.6 961.4L1080.1 961.4L1081.6 961.4L1083.1 961.4L1084.6 961.4L1086.1 961.4L1087.6 961.4L1089.1 961.4L1090.6 961.4L1092.1 961.4L1093.6 961.4L1095.1 961.4L1096.6 961.4L1098.1 961.3L1099.6 961.3L1101.1 961.3L1102.6 961.3L1104.1 961.3L1105.6 961.3L1107.1 961.3L1108.6 961.3L1110.1 961.3L1111.6 961.3L1113.1 961.3L1114.7 961.3L1116.2 961.3L1117.7 961.3L1119.2 961.3L1120.7 961.3L1122.2 961.2L1123.7 961.2L1125.2 961.2L1126.7 961.2L1128.2 961.2L1129.7 961.2L1131.2 961.2L1132.7 961.2L1134.2 961.2L1135.7 961.2L1137.2 961.2L1138.7 961.2L1140.2 961.2L1141.7 961.2L1143.2 961.1L1144.7 961.1L1146.2 961.1L1147.7 961.1L1149.2 961.1L1150.7 961.1L1152.2 961.1L1153.7 961.1L1155.2 961.1L1156.7 961.1L1158.2 961.1L1159.7 961.1L1161.2 961.1L1162.7 961.1L1164.2 961.0L1165.7 961.0L1167.2 961.0L1168.7 961.0L1170.2 961.0L1171.7 961.0L1173.2 961.0L1174.7 961.0L1176.2 961.0L1177.7 961.0L1179.2 961.0L1180.7 961.0L1182.2 961.0L1183.7 960.9L1185.2 960.9L1186.7 960.9L1188.2 960.9L1189.7 960.9L1191.2 960.9L1192.7 960.9L1194.2 960.9L1195.7 960.9L1197.2 960.9L1198.7 960.9L1200.2 960.9L1201.7 960.9L1203.2 960.8L1204.7 960.8L1206.2 960.8L1207.7 960.8L1209.2 960.8L1210.7 960.8L1212.2 960.8L1213.7 960.8L1215.2 960.8L1216.7 960.8L1218.2 960.8L1219.7 960.8L1221.2 960.8L1222.7 960.7L1224.2 960.7L1225.7 960.7L1227.2 960.7L1228.7 960.7L1230.2 960.7L1231.7 960.7L1233.2 960.7L1234.7 960.7L1236.2 960.7L1237.7 960.7L1239.2 960.7L1240.7 960.7L1242.2 960.6L1243.7 960.6L1245.2 960.6L1246.7 960.6L1248.2 960.6L1249.7 960.6L1251.2 960.6L1252.7 960.6L1254.2 960.6L1255.7 960.6L1257.2 960.6L1258.7 960.6L1260.2 960.5L1261.7 960.5L1263.2 960.5L1264.7 960.5L1266.2 960.5L1267.7 960.5L1269.2 960.5L1270.8 960.5L1272.3 960.5L1273.8 960.5L1275.3 960.5L1276.8 960.4L1278.3 960.4L1279.8 960.4L1281.3 960.4L1282.8 960.4L1284.3 960.4L1285.8 960.4L1287.3 960.4L1288.8 960.4L1290.3 960.4L1291.8 960.4L1293.3 960.3L1294.8 960.3L1296.3 960.3L1297.8 960.3L1299.3 960.3L1300.8 960.3L1302.3 960.3L1303.8 960.3L1305.3 960.3L1306.8 960.3L1308.3 960.2L1309.8 960.2L1311.3 960.2L1312.8 960.2L1314.3 960.2L1315.8 960.2L1317.3 960.2L1318.8 960.2L1320.3 960.2L1321.8 960.2L1323.3 960.1L1324.8 960.1L1326.3 960.1L1327.8 960.1L1329.3 960.1L1330.8 960.1L1332.3 960.1L1333.8 960.1L1335.3 960.1L1336.8 960.1L1338.3 960.0L1339.8 960.0L1341.3 960.0L1342.8 960.0L1344.3 960.0L1345.8 960.0L1347.3 960.0L1348.8 960.0L1350.3 960.0L1351.8 959.9L1353.3 959.9L1354.8 959.9L1356.3 959.9L1357.8 959.9L1359.3 959.9L1360.8 959.9L1362.3 959.9L1363.8 959.9L1365.3 959.9L1366.8 959.8L1368.3 959.8L1369.8 959.8L1371.3 959.8L1372.8 959.8L1374.3 959.8L1375.8 959.8L1377.3 959.8L1378.8 959.8L1380.3 959.7L1381.8 959.7L1383.3 959.7L1384.8 959.7L1386.3 959.7L1387.8 959.7L1389.3 959.7L1390.8 959.7L1392.3 959.7L1393.8 959.7L1395.3 959.6L1396.8 959.6L1398.3 959.6L1399.8 959.6L1401.3 959.6L1402.8 959.6L1404.3 959.6L1405.8 959.6L1407.3 959.6L1408.8 959.6L1410.3 959.5L1411.8 959.5L1413.3 959.5L1414.8 959.5L1416.3 959.5L1417.8 959.5L1419.3 959.5L1420.8 959.5L1422.3 959.5L1423.8 959.5L1425.3 959.5L1426.8 959.4L1428.3 959.4L1429.9 959.4L1431.4 959.4L1432.9 959.4L1434.4 959.4L1435.9 959.4L1437.4 959.4L1438.9 959.4L1440.4 959.4L1441.9 959.3L1443.4 959.3L1444.9 959.3L1446.4 959.3L1447.9 959.3L1449.4 959.3L1450.9 959.3L1452.4 959.3L1453.9 959.3L1455.4 959.3L1456.9 959.3L1458.4 959.3L1459.9 959.2L1461.4 959.2L1462.9 959.2L1464.4 959.2L1465.9 959.2L1467.4 959.2L1468.9 959.2L1470.4 959.2L1471.9 959.2L1473.4 959.2L1474.9 959.2L1476.4 959.1L1477.9 959.1L1479.4 959.1L1480.9 959.1L1482.4 959.1L1483.9 959.1L1485.4 959.1L1486.9 959.1L1488.4 959.1L1489.9 959.1L1491.4 959.1L1492.9 959.1L1494.4 959.0L1495.9 959.0L1497.4 959.0L1498.9 959.0L1500.4 959.0L1501.9 959.0L1503.4 959.0L1504.9 959.0L1506.4 959.0L1507.9 959.0L1509.4 959.0L1510.9 959.0L1512.4 959.0L1513.9 958.9L1515.4 958.9L1516.9 958.9L1518.4 958.9L1519.9 958.9L1521.4 958.9L1522.9 958.9L1524.4 958.9L1525.9 958.9L1527.4 958.9L1528.9 958.9L1530.4 958.9L1531.9 958.8L1533.4 958.8L1534.9 958.8L1536.4 958.8L1537.9 958.8L1539.4 958.8L1540.9 958.8L1542.4 958.8L1543.9 958.8L1545.4 958.8L1546.9 958.8L1548.4 958.8L1549.9 958.8L1551.4 958.7L1552.9 958.7L1554.4 958.7L1555.9 958.7L1557.4 958.7L1558.9 958.7L1560.4 958.7L1561.9 958.7L1563.4 958.7L1564.9 958.7L1566.4 958.7L1567.9 958.7L1569.4 958.7L1570.9 958.6L1572.4 958.6L1573.9 958.6L1575.4 958.6L1576.9 958.6L1578.4 958.6L1579.9 958.6L1581.4 958.6L1582.9 958.6L1584.4 958.6L1585.9 958.6L1587.5 958.6L1589.0 958.6L1590.5 958.5L1592.0 958.5L1593.5 958.5L1595.0 958.5L1596.5 958.5L1598.0 958.5L1599.5 958.5L1601.0 958.5L1602.5 958.5L1604.0 958.5L1605.5 958.5L1607.0 958.5L1608.5 958.5L1610.0 958.5L1611.5 958.4L1613.0 958.4L1614.5 958.4L1616.0 958.4L1617.5 958.4L1619.0 958.4L1620.5 958.4L1622.0 958.4L1623.5 958.4L1625.0 958.4L1626.5 958.4L1628.0 958.4L1629.5 958.4L1631.0 958.4L1632.5 958.3L1634.0 958.3L1635.5 958.3L1637.0 958.3L1638.5 958.3L1640.0 958.3L1641.5 958.3L1643.0 958.3L1644.5 958.3L1646.0 958.3L1647.5 958.3L1649.0 958.3L1650.5 958.3L1652.0 958.3L1653.5 958.2L1655.0 958.2L1656.5 958.2L1658.0 958.2L1659.5 958.2L1661.0 958.2L1662.5 958.2L1664.0 958.2"/>
<path stroke="#3AAA6C" d="M343.8 0.0L343.8 1.5L343.9 3.0L343.9 4.5L343.9 6.0L344.0 7.5L344.0 9.0L344.0 10.5L344.1 12.0L344.1 13.5L344.1 15.0L344.2 16.5L344.2 18.0L344.3 19.5L344.3 21.0L344.3 22.5L344.4 24.0L344.4 25.5L344.4 27.0L344.5 28.5L344.5 30.0L344.5 31.5L344.6 33.0L344.6 34.5L344.6 36.0L344.7 37.5L344.7 39.0L344.8 40.5L344.8 42.0L344.8 43.5L344.9 45.0L344.9 46.5L344.9 48.0L345.0 49.5L345.0 51.0L345.0 52.5L345.1 54.0L345.1 55.5L345.2 57.0L345.2 58.5L345.2 60.0L345.3 61.5L345.3 63.0L345.3 64.5L345.4 66.0L345.4 67.6L345.4 69.1L345.5 70.6L345.5 72.1L345.6 73.6L345.6 75.1L345.6 76.6L345.7 78.1L345.7 79.6L345.7 81.1L345.8 82.6L345.8 84.1L345.9 85.6L345.9 87.1L345.9 88.6L346.0 90.1L346.0 91.6L346.0 93.1L346.1 94.6L346.1 96.1L346.2 97.6L346.2 99.1L346.2 100.6L346.3 102.1L346.3 103.6L346.3 105.1L346.4 106.6L346.4 108.1L346.4 109.6L346.5 111.1L346.5 112.6L346.6 114.1L346.6 115.6L346.6 117.1L346.7 118.6L346.7 120.1L346.8 121.6L346.8 123.1L346.8 124.6L346.9 126.1L346.9 127.6L346.9 129.1L347.0 130.6L347.0 132.1L347.1 133.6L347.1 135.1L347.1 136.6L347.2 138.1L347.2 139.6L347.2 141.1L347.3 142.6L347.3 144.1L347.4 145.6L347.4 147.1L347.4 148.6L347.5 150.1L347.5 151.6L347.5 153.1L347.6 154.6L347.6 156.1L347.7 157.6L347.7 159.1L347.7 160.6L347.8 162.1L347.8 163.6L347.8 165.1L347.9 166.6L347.9 168.1L348.0 169.6L348.0 171.1L348.0 172.6L348.1 174.1L348.1 175.6L348.2 177.1L348.2 178.6L348.2 180.1L348.3 181.6L348.3 183.1L348.3 184.6L348.4 186.1L348.4 187.6L348.5 189.1L348.5 190.6L348.5 192.1L348.6 193.6L348.6 195.1L348.7 196.6L348.7 198.1L348.7 199.6L348.8 201.1L348.8 202.6L348.8 204.1L348.9 205.6L348.9 207.1L349.0 208.7L349.0 210.2L349.0 211.7L349.1 213.2L349.1 214.7L349.1 216.2L349.2 217.7L349.2 219.2L349.3 220.7L349.3 222.2L349.3 223.7L349.4 225.2L349.4 226.7L349.5 228.2L349.5 229.7L349.5 231.2L349.6 232.7L349.6 234.2L349.6 235.7L349.7 237.2L349.7 238.7L349.8 240.2L349.8 241.7L349.8 243.2L349.9 244.7L349.9 246.2L350.0 247.7L350.0 249.2L350.0 250.7L350.1 252.2L350.1 253.7L350.1 255.2L350.2 256.7L350.2 258.2L350.3 259.7L350.3 261.2L350.3 262.7L350.4 264.2L350.4 265.7L350.5 267.2L350.5 268.7L350.5 270.2L350.6 271.7L350.6 273.2L350.6 274.7L350.7 276.2L350.7 277.7L350.8 279.2L350.8 280.7L350.8 282.2L350.9 283.7L350.9 285.2L351.0 286.7L351.0 288.2L351.0 289.7L351.1 291.2L351.1 292.7L351.2 294.2L351.2 295.7L351.2 297.2L351.3 298.7L351.3 300.2L351.4 301.7L351.4 303.2L351.4 304.7L351.5 306.2L351.5 307.7L351.5 309.2L351.6 310.7L351.6 312.2L351.7 313.7L351.7 315.2L351.7 316.7L351.8 318.2L351.8 319.7L351.9 321.2L351.9 322.7L351.9 324.2L352.0 325.7L352.0 327.2L352.1 328.7L352.1 330.2L352.1 331.7L352.2 333.2L352.2 334.7L352.3 336.2L352.3 337.7L352.3 339.2L352.4 340.7L352.4 342.2L352.4 343.7L352.5 345.2L352.5 346.7L352.6 348.2L352.6 349.7L352.6 351.2L352.7 352.7L352.7 354.3L352.8 355.8L352.8 357.3L352.8 358.8L352.9 360.3L352.9 361.8L353.0 363.3L353.0 364.8L353.0 366.3L353.1 367.8L353.1 369.3L353.1 370.8L353.2 372.3L353.2 373.8L353.3 375.3L353.3 376.8L353.3 378.3L353.4 379.8L353.4 381.3L353.5 382.8L353.5 384.3L353.5 385.8L353.6 387.3L353.6 388.8L353.6 390.3L353.7 391.8L353.7 393.3L353.8 394.8L353.8 396.3L353.8 397.8L353.9 399.3L353.9 400.8L354.0 402.3L354.0 403.8L354.0 405.3L354.1 406.8L354.1 408.3L354.1 409.8L354.2 411.3L354.2 412.8L354.3 414.3L354.3 415.8L354.3 417.3L354.4 418.8L354.4 420.3L354.4 421.8L354.5 423.3L354.5 424.8L354.6 426.3L354.6 427.8L354.6 429.3L354.7 430.8L354.7 432.3L354.7 433.8L354.8 435.3L354.8 436.8L354.8 438.3L354.9 439.8L354.9 441.3L355.0 442.8L355.0 444.3L355.0 445.8L355.1 447.3L355.1 448.8L355.1 450.3L355.2 451.8L355.2 453.3L355.2 454.8L355.3 456.3L355.3 457.8L355.3 459.3L355.4 460.8L355.4 462.3L355.5 463.8L355.5 465.3L355.5 466.8L355.6 468.3L355.6 469.8L355.6 471.3L355.7 472.8L355.7 474.3L355.7 475.8L355.8 477.3L355.8 478.8L355.8 480.3L355.9 481.8L355.9 483.3L355.9 484.8L356.0 486.3L356.0 487.8L356.0 489.3L356.1 490.9L356.1 492.4L356.1 493.9L356.2 495.4L356.2 496.9L356.2 498.4L356.3 499.9L356.3 501.4L356.3 502.9L356.4 504.4L356.4 505.9L356.5 507.4L356.5 508.9L356.5 510.4L356.6 511.9L356.6 513.4L356.6 514.9L356.7 516.4L356.7 517.9L356.7 519.4L356.8 520.9L356.8 522.4L356.8 523.9L356.9 525.4L356.9 526.9L356.9 528.4L357.0 529.9L357.0 531.4L357.1 532.9L357.1 534.4L357.1 535.9L357.2 537.4L357.2 538.9L357.2 540.4L357.3 541.9L357.3 543.4L357.3 544.9L357.4 546.4L357.4 547.9L357.5 549.4L357.5 550.9L357.5 552.4L357.6 553.9L357.6 555.4L357.6 556.9L357.7 558.4L357.7 559.9L357.8 561.4L357.8 562.9L357.8 564.4L357.9 565.9L357.9 567.4L357.9 568.9L358.0 570.4L358.0 571.9L358.1 573.4L358.1 574.9L358.1 576.4L358.2 577.9L358.2 579.4L358.3 580.9L358.3 582.4L358.3 583.9L358.4 585.4L358.4 586.9L358.5 588.4L358.5 589.9L358.6 591.4L358.6 592.9L358.6 594.4L358.7 595.9L358.7 597.4L358.8 598.9L358.8 600.4L358.9 601.9L358.9 603.4L358.9 604.9L359.0 606.4L359.0 607.9L359.1 609.4L359.1 610.9L359.2 612.4L359.2 613.9L359.3 615.4L359.3 616.9L359.4 618.4L359.4 619.9L359.4 621.4L359.5 622.9L359.5 624.4L359.6 625.9L359.6 627.4L359.7 628.9L359.7 630.4L359.8 631.9L359.8 633.4L359.9 634.9L359.9 636.4L360.0 637.9L360.0 639.4L360.1 640.9L360.1 642.4L360.2 643.9L360.2 645.5L360.3 647.0L360.3 648.5L360.4 650.0L360.4 651.5L360.5 653.0L360.5 654.5L360.6 656.0L360.7 657.5L360.7 659.0L360.8 660.5L360.8 662.0L360.9 663.5L360.9 665.0L361.0 666.5L361.0 668.0L361.1 669.5L361.1 671.0L361.2 672.5L361.2 674.0L361.3 675.5L361.3 677.0L361.4 678.5L361.5 680.0L361.5 681.5L361.6 683.0L361.6 684.5L361.7 686.0L361.7 687.5L361.8 689.0L361.8 690.5L361.9 692.0L362.0 693.5L362.0 695.0L362.1 696.5L362.1 698.0L362.2 699.5L362.2 701.0L362.3 702.5L362.3 704.0L362.4 705.5L362.5 707.0L362.5 708.5L362.6 710.0L362.6 711.5L362.7 713.0L362.7 714.5L362.8 716.0L362.8 717.5L362.9 719.0L363.0 720.5L363.0 722.0L363.1 723.5L363.1 725.0L363.2 726.5L363.2 728.0L363.3 729.5L363.4 731.0L363.4 732.5L363.5 734.0L363.5 735.5L363.6 737.0L363.6 738.5L363.7 740.0L363.8 741.5L363.8 743.0L363.9 744.5L363.9 746.0L364.0 747.5L364.0 749.0L364.1 750.5L364.2 752.0L364.2 753.5L364.3 755.0L364.3 756.5L364.4 758.0L364.4 759.5L364.5 761.0L364.5 762.5L364.6 764.0L364.7 765.5L364.7 767.0L364.8 768.5L364.8 770.0L364.9 771.5L364.9 773.0L365.0 774.5L365.1 776.0L365.1 777.5L365.2 779.0L365.2 780.5L365.3 782.0L365.3 783.5L365.4 785.0L365.4 786.5L365.5 788.0L365.5 789.5L365.6 791.0L365.6 792.5L365.7 794.0L365.8 795.5L365.8 797.0L365.9 798.5L365.9 800.0L366.0 801.5L366.0 803.0L366.1 804.5L366.1 806.0L366.2 807.5L366.2 809.0L366.3 810.5L366.3 812.0L366.4 813.5L366.4 815.0L366.5 816.5L366.5 818.0L366.6 819.5L366.7 821.0L366.7 822.5L366.8 824.0L366.8 825.5L366.9 827.0L366.9 828.5L367.0 830.0L367.1 831.5L367.1 833.0L367.2 834.5L367.3 836.0L367.3 837.5L367.4 839.0L367.4 840.5L367.5 842.0L367.6 843.5L367.7 845.0L367.7 846.5L367.8 848.0L367.9 849.5L367.9 851.0L368.0 852.5L368.1 854.0L368.1 855.5L368.2 857.0L368.3 858.5L368.3 860.1L368.4 861.6L368.5 863.1L368.5 864.6L368.6 866.1L368.7 867.6L368.8 869.1L368.8 870.6L368.9 872.1L369.0 873.6L369.1 875.1L369.2 876.6L369.3 878.1L369.3 879.6L369.4 881.1L369.5 882.6L369.6 884.1L369.7 885.6L369.9 887.1L370.0 888.6L370.1 890.1L370.2 891.6L370.3 893.1L370.5 894.5L370.6 896.0L370.7 897.5L370.9 899.0L371.1 900.5L371.2 902.1L371.5 903.8L371.7 905.6L372.0 907.5L372.3 909.4L372.6 911.3L372.9 913.3L373.3 915.2L373.7 917.0L374.1 918.8L374.5 920.5L374.9 922.1L375.3 923.5L375.8 924.7L376.2 925.8L376.6 926.6L377.1 927.2L377.5 927.5L377.9 927.5L378.3 927.1L378.8 926.5L379.2 925.6L379.7 924.4L380.2 923.1L380.7 921.5L381.2 919.9L381.7 918.1L382.2 916.3L382.7 914.4L383.3 912.5L383.8 910.6L384.3 908.8L384.8 907.1L385.3 905.6L385.8 904.1L386.3 902.7L386.8 901.3L387.3 899.9L387.9 898.5L388.4 897.1L388.9 895.7L389.4 894.3L390.0 892.9L390.5 891.4L391.0 890.0L391.6 888.6L392.1 887.2L392.6 885.8L393.2 884.4L393.7 883.0L394.2 881.6L394.8 880.2L395.3 878.8L395.8 877.4L396.3 876.0L396.8 874.5L397.3 873.1L397.8 871.7L398.3 870.3L398.8 868.9L399.2 867.4L399.7 866.0L400.1 864.6L400.6 863.2L401.0 861.7L401.4 860.3L401.8 858.9L402.2 857.4L402.6 856.0L403.0 854.5L403.3 853.1L403.7 851.6L404.0 850.1L404.3 848.7L404.7 847.2L405.0 845.7L405.3 844.3L405.6 842.8L405.9 841.3L406.3 839.9L406.6 838.4L406.9 836.9L407.2 835.4L407.5 834.0L407.8 832.5L408.1 831.0L408.4 829.5L408.7 828.1L409.0 826.6L409.3 825.1L409.7 823.6L410.0 822.2L410.3 820.7L410.7 819.3L411.0 817.8L411.4 816.3L411.8 814.9L412.2 813.4L412.6 812.0L413.0 810.6L413.4 809.1L413.9 807.7L414.3 806.3L414.8 804.9L415.4 803.5L415.9 802.0L416.4 800.6L416.9 799.2L417.3 797.8L417.8 796.3L418.3 794.9L418.7 793.5L419.2 792.1L419.6 790.6L420.0 789.2L420.5 787.7L420.9 786.3L421.3 784.9L421.8 783.4L422.2 782.0L422.6 780.5L423.0 779.1L423.4 777.6L423.8 776.2L424.2 774.8L424.6 773.3L424.9 771.8L425.3 770.4L425.7 768.9L426.0 767.5L426.4 766.0L426.8 764.6L427.1 763.1L427.5 761.6L427.9 760.2L428.3 758.7L428.7 757.3L429.0 755.8L429.4 754.4L429.8 752.9L430.2 751.4L430.7 750.0L431.2 748.6L431.8 747.2L432.5 745.6L433.5 744.1L434.4 743.1L435.3 743.0L436.2 743.8L437.1 745.1L437.9 746.8L438.6 748.4L439.2 749.8L439.7 751.2L440.1 752.6L440.5 754.0L440.9 755.5L441.3 757.0L441.6 758.5L442.0 759.9L442.4 761.4L442.7 762.8L443.1 764.3L443.5 765.8L443.8 767.2L444.2 768.7L444.5 770.1L444.9 771.6L445.2 773.1L445.6 774.5L445.9 776.0L446.2 777.5L446.5 778.9L446.8 780.4L447.1 781.9L447.3 783.4L447.6 784.8L447.9 786.3L448.1 787.8L448.4 789.3L448.6 790.8L448.9 792.2L449.1 793.7L449.3 795.2L449.6 796.7L449.8 798.2L450.0 799.7L450.2 801.1L450.5 802.6L450.7 804.1L450.9 805.6L451.1 807.1L451.3 808.6L451.5 810.1L451.7 811.5L451.9 813.0L452.1 814.5L452.3 816.0L452.5 817.5L452.8 819.0L453.0 820.5L453.2 822.0L453.4 823.4L453.6 824.9L453.8 826.4L454.1 827.9L454.3 829.4L454.5 830.9L454.7 832.4L455.0 833.8L455.2 835.3L455.4 836.8L455.6 838.3L455.9 839.8L456.1 841.3L456.3 842.7L456.6 844.2L456.8 845.7L457.0 847.2L457.2 848.7L457.5 850.2L457.7 851.6L457.9 853.1L458.2 854.6L458.4 856.1L458.6 857.6L458.8 859.1L459.1 860.6L459.3 862.0L459.5 863.5L459.7 865.0L460.0 866.5L460.2 868.0L460.4 869.5L460.6 870.9L460.9 872.4L461.1 873.9L461.3 875.4L461.5 876.9L461.8 878.4L462.0 879.9L462.2 881.3L462.4 882.8L462.7 884.3L462.9 885.8L463.1 887.3L463.3 888.8L463.5 890.2L463.8 891.7L464.0 893.2L464.2 894.7L464.4 896.2L464.7 897.7L464.9 899.2L465.1 900.6L465.3 902.1L465.5 903.6L465.8 905.1L466.0 906.6L466.2 908.1L466.4 909.6L466.7 911.0L466.9 912.5L467.1 914.0L467.3 915.5L467.5 917.0L467.7 918.5L467.9 920.0L468.1 921.5L468.3 923.0L468.5 924.4L468.7 925.9L468.9 927.4L469.1 928.9L469.3 930.4L469.5 931.9L469.7 933.4L469.9 934.9L470.1 936.4L470.4 937.9L470.6 939.3L470.8 940.8L471.1 942.3L471.4 943.8L471.6 945.2L471.9 946.7L472.2 948.2L472.6 949.7L472.9 951.2L473.2 952.7L473.6 954.2L474.0 955.6L474.4 957.1L474.9 958.5L475.5 959.8L476.1 961.1L476.8 962.5L477.8 964.0L478.8 965.3L480.0 966.2L481.1 966.2L482.2 965.7L483.4 964.8L484.6 963.6L485.9 962.4L487.2 961.3L488.5 960.4L489.8 960.0L491.2 959.9L492.6 959.9L494.0 959.8L495.4 959.8L496.9 959.7L498.4 959.7L499.9 959.6L501.4 959.6L502.9 959.6L504.4 959.5L506.0 959.5L507.5 959.5L509.1 959.5L510.6 959.4L512.2 959.4L513.7 959.4L515.3 959.4L516.8 959.4L518.3 959.4L519.8 959.4L521.3 959.4L522.8 959.4L524.3 959.4L525.8 959.4L527.4 959.4L528.9 959.4L530.4 959.4L531.9 959.4L533.4 959.4L534.9 959.4L536.4 959.4L537.9 959.4L539.4 959.4L540.9 959.4L542.4 959.5L543.9 959.5L545.4 959.5L546.9 959.5L548.4 959.5L549.9 959.5L551.4 959.5L552.9 959.5L554.4 959.5L555.9 959.5L557.4 959.5L558.9 959.5L560.4 959.6L561.9 959.6L563.4 959.6L564.9 959.6L566.4 959.6L567.9 959.6L569.4 959.6L570.9 959.6L572.4 959.6L573.9 959.7L575.4 959.7L576.9 959.7L578.4 959.7L579.9 959.7L581.4 959.7L582.9 959.7L584.4 959.7L585.9 959.8L587.4 959.8L588.9 959.8L590.4 959.8L591.9 959.8L593.4 959.8L594.9 959.8L596.4 959.8L597.9 959.9L599.4 959.9L600.9 959.9L602.4 959.9L603.9 959.9L605.4 959.9L606.9 959.9L608.4 959.9L609.9 960.0L611.4 960.0L612.9 960.0L614.4 960.0L615.9 960.0L617.4 960.0L618.9 960.0L620.4 960.1L621.9 960.1L623.4 960.1L624.9 960.1L626.4 960.1L628.0 960.1L629.5 960.1L631.0 960.1L632.5 960.1L634.0 960.2L635.5 960.2L637.0 960.2L638.5 960.2L640.0 960.2L641.5 960.2L643.0 960.2L644.5 960.2L646.0 960.2L647.5 960.3L649.0 960.3L650.5 960.3L652.0 960.3L653.5 960.3L655.0 960.3L656.5 960.3L658.0 960.3L659.5 960.3L661.0 960.3L662.5 960.4L664.0 960.4L665.5 960.4L667.0 960.4L668.5 960.4L670.0 960.4L671.5 960.4L673.0 960.4L674.5 960.4L676.0 960.5L677.5 960.5L679.0 960.5L680.5 960.5L682.0 960.5L683.5 960.5L685.0 960.5L686.5 960.5L688.0 960.6L689.5 960.6L691.0 960.6L692.5 960.6L694.0 960.6L695.5 960.6L697.0 960.6L698.5 960.6L700.0 960.6L701.5 960.7L703.0 960.7L704.5 960.7L706.0 960.7L707.5 960.7L709.0 960.7L710.5 960.7L712.0 960.7L713.5 960.7L715.0 960.7L716.5 960.8L718.0 960.8L719.5 960.8L721.0 960.8L722.5 960.8L724.0 960.8L725.5 960.8L727.1 960.8L728.6 960.8L730.1 960.8L731.6 960.9L733.1 960.9L734.6 960.9L736.1 960.9L737.6 960.9L739.1 960.9L740.6 960.9L742.1 960.9L743.6 960.9L745.1 960.9L746.6 960.9L748.1 960.9L749.6 961.0L751.1 961.0L752.6 961.0L754.1 961.0L755.6 961.0L757.1 961.0L758.6 961.0L760.1 961.0L761.6 961.0L763.1 961.0L764.6 961.0L766.1 961.0L767.6 961.0L769.1 961.0L770.6 961.0L772.1 961.0L773.6 961.1L775.1 961.1L776.6 961.1L778.1 961.1L779.6 961.1L781.1 961.1L782.6 961.1L784.1 961.1L785.6 961.1L787.1 961.1L788.6 961.1L790.1 961.1L791.6 961.1L793.1 961.1L794.6 961.1L796.1 961.1L797.6 961.2L799.1 961.2L800.6 961.2L802.1 961.2L803.6 961.2L805.1 961.2L806.6 961.2L808.1 961.2L809.6 961.2L811.1 961.2L812.6 961.2L814.1 961.2L815.6 961.2L817.1 961.2L818.6 961.2L820.1 961.2L821.6 961.2L823.1 961.2L824.6 961.3L826.2 961.3L827.7 961.3L829.2 961.3L830.7 961.3L832.2 961.3L833.7 961.3L835.2 961.3L836.7 961.3L838.2 961.3L839.7 961.3L841.2 961.3L842.7 961.3L844.2 961.3L845.7 961.3L847.2 961.3L848.7 961.3L850.2 961.3L851.7 961.3L853.2 961.3L854.7 961.3L856.2 961.3L857.7 961.3L859.2 961.4L860.7 961.4L862.2 961.4L863.7 961.4L865.2 961.4L866.7 961.4L868.2 961.4L869.7 961.4L871.2 961.4L872.7 961.4L874.2 961.4L875.7 961.4L877.2 961.4L878.7 961.4L880.2 961.4L881.7 961.4L883.2 961.4L884.7 961.4L886.2 961.4L887.7 961.4L889.2 961.4L890.7 961.4L892.2 961.4L893.7 961.4L895.2 961.4L896.7 961.4L898.2 961.4L899.7 961.4L901.2 961.4L902.7 961.4L904.2 961.4L905.7 961.4L907.2 961.4L908.7 961.4L910.2 961.4L911.7 961.4L913.2 961.4L914.7 961.4L916.2 961.4L917.7 961.4L919.2 961.4L920.7 961.4L922.2 961.4L923.8 961.4L925.3 961.4L926.8 961.4L928.3 961.4L929.8 961.4L931.3 961.4L932.8 961.4L934.3 961.4L935.8 961.4L937.3 961.4L938.8 961.4L940.3 961.3L941.8 961.3L943.3 961.3L944.8 961.3L946.3 961.3L947.8 961.3L949.3 961.3L950.8 961.3L952.3 961.3L953.8 961.3L955.3 961.3L956.8 961.3L958.3 961.3L959.8 961.3L961.3 961.3L962.8 961.3L964.3 961.3L965.8 961.3L967.3 961.3L968.8 961.3L970.3 961.3L971.8 961.3L973.3 961.2L974.8 961.2L976.3 961.2L977.8 961.2L979.3 961.2L980.8 961.2L982.3 961.2L983.8 961.2L985.3 961.2L986.8 961.2L988.3 961.2L989.8 961.2L991.3 961.2L992.8 961.2L994.3 961.2L995.8 961.2L997.3 961.2L998.8 961.2L1000.3 961.1L1001.8 961.1L1003.3 961.1L1004.8 961.1L1006.3 961.1L1007.8 961.1L1009.3 961.1L1010.8 961.1L1012.3 961.1L1013.8 961.1L1015.3 961.1L1016.8 961.1L1018.3 961.1L1019.8 961.1L1021.4 961.1L1022.9 961.1L1024.4 961.0L1025.9 961.0L1027.4 961.0L1028.9 961.0L1030.4 961.0L1031.9 961.0L1033.4 961.0L1034.9 961.0L1036.4 961.0L1037.9 961.0L1039.4 961.0L1040.9 961.0L1042.4 961.0L1043.9 961.0L1045.4 961.0L1046.9 961.0L1048.4 960.9L1049.9 960.9L1051.4 960.9L1052.9 960.9L1054.4 960.9L1055.9 960.9L1057.4 960.9L1058.9 960.9L1060.4 960.9L1061.9 960.9L1063.4 960.9L1064.9 960.9L1066.4 960.9L1067.9 960.9L1069.4 960.9L1070.9 960.9L1072.4 960.9L1073.9 960.8L1075.4 960.8L1076.9 960.8L1078.4 960.8L1079.9 960.8L1081.4 960.8L1082.9 960.8L1084.4 960.8L1085.9 960.8L1087.4 960.8L1088.9 960.8L1090.4 960.8L1091.9 960.8L1093.4 960.8L1094.9 960.8L1096.4 960.8L1097.9 960.7L1099.4 960.7L1100.9 960.7L1102.4 960.7L1103.9 960.7L1105.4 960.7L1106.9 960.7L1108.4 960.7L1109.9 960.7L1111.4 960.7L1112.9 960.7L1114.4 960.7L1115.9 960.7L1117.4 960.7L1119.0 960.7L1120.5 960.7L1122.0 960.6L1123.5 960.6L1125.0 960.6L1126.5 960.6L1128.0 960.6L1129.5 960.6L1131.0 960.6L1132.5 960.6L1134.0 960.6L1135.5 960.6L1137.0 960.6L1138.5 960.6L1140.0 960.6L1141.5 960.6L1143.0 960.5L1144.5 960.5L1146.0 960.5L1147.5 960.5L1149.0 960.5L1150.5 960.5L1152.0 960.5L1153.5 960.5L1155.0 960.5L1156.5 960.5L1158.0 960.5L1159.5 960.5L1161.0 960.5L1162.5 960.5L1164.0 960.4L1165.5 960.4L1167.0 960.4L1168.5 960.4L1170.0 960.4L1171.5 960.4L1173.0 960.4L1174.5 960.4L1176.0 960.4L1177.5 960.4L1179.0 960.4L1180.5 960.4L1182.0 960.4L1183.5 960.4L1185.0 960.3L1186.5 960.3L1188.0 960.3L1189.5 960.3L1191.0 960.3L1192.5 960.3L1194.0 960.3L1195.5 960.3L1197.0 960.3L1198.5 960.3L1200.0 960.3L1201.5 960.3L1203.0 960.3L1204.5 960.2L1206.0 960.2L1207.5 960.2L1209.0 960.2L1210.5 960.2L1212.0 960.2L1213.5 960.2L1215.0 960.2L1216.5 960.2L1218.1 960.2L1219.6 960.2L1221.1 960.2L1222.6 960.1L1224.1 960.1L1225.6 960.1L1227.1 960.1L1228.6 960.1L1230.1 960.1L1231.6 960.1L1233.1 960.1L1234.6 960.1L1236.1 960.1L1237.6 960.1L1239.1 960.1L1240.6 960.1L1242.1 960.0L1243.6 960.0L1245.1 960.0L1246.6 960.0L1248.1 960.0L1249.6 960.0L1251.1 960.0L1252.6 960.0L1254.1 960.0L1255.6 960.0L1257.1 960.0L1258.6 960.0L1260.1 959.9L1261.6 959.9L1263.1 959.9L1264.6 959.9L1266.1 959.9L1267.6 959.9L1269.1 959.9L1270.6 959.9L1272.1 959.9L1273.6 959.9L1275.1 959.9L1276.6 959.8L1278.1 959.8L1279.6 959.8L1281.1 959.8L1282.6 959.8L1284.1 959.8L1285.6 959.8L1287.1 959.8L1288.6 959.8L1290.1 959.8L1291.6 959.8L1293.1 959.7L1294.6 959.7L1296.1 959.7L1297.6 959.7L1299.1 959.7L1300.6 959.7L1302.1 959.7L1303.6 959.7L1305.1 959.7L1306.6 959.7L1308.1 959.6L1309.6 959.6L1311.1 959.6L1312.6 959.6L1314.1 959.6L1315.6 959.6L1317.2 959.6L1318.7 959.6L1320.2 959.6L1321.7 959.6L1323.2 959.5L1324.7 959.5L1326.2 959.5L1327.7 959.5L1329.2 959.5L1330.7 959.5L1332.2 959.5L1333.7 959.5L1335.2 959.5L1336.7 959.5L1338.2 959.4L1339.7 959.4L1341.2 959.4L1342.7 959.4L1344.2 959.4L1345.7 959.4L1347.2 959.4L1348.7 959.4L1350.2 959.4L1351.7 959.3L1353.2 959.3L1354.7 959.3L1356.2 959.3L1357.7 959.3L1359.2 959.3L1360.7 959.3L1362.2 959.3L1363.7 959.3L1365.2 959.3L1366.7 959.2L1368.2 959.2L1369.7 959.2L1371.2 959.2L1372.7 959.2L1374.2 959.2L1375.7 959.2L1377.2 959.2L1378.7 959.2L1380.2 959.2L1381.7 959.1L1383.2 959.1L1384.7 959.1L1386.2 959.1L1387.7 959.1L1389.2 959.1L1390.7 959.1L1392.2 959.1L1393.7 959.1L1395.2 959.0L1396.7 959.0L1398.2 959.0L1399.7 959.0L1401.2 959.0L1402.7 959.0L1404.2 959.0L1405.7 959.0L1407.2 959.0L1408.7 959.0L1410.2 958.9L1411.7 958.9L1413.2 958.9L1414.7 958.9L1416.2 958.9L1417.8 958.9L1419.3 958.9L1420.8 958.9L1422.3 958.9L1423.8 958.9L1425.3 958.9L1426.8 958.8L1428.3 958.8L1429.8 958.8L1431.3 958.8L1432.8 958.8L1434.3 958.8L1435.8 958.8L1437.3 958.8L1438.8 958.8L1440.3 958.8L1441.8 958.7L1443.3 958.7L1444.8 958.7L1446.3 958.7L1447.8 958.7L1449.3 958.7L1450.8 958.7L1452.3 958.7L1453.8 958.7L1455.3 958.7L1456.8 958.7L1458.3 958.7L1459.8 958.6L1461.3 958.6L1462.8 958.6L1464.3 958.6L1465.8 958.6L1467.3 958.6L1468.8 958.6L1470.3 958.6L1471.8 958.6L1473.3 958.6L1474.8 958.6L1476.3 958.5L1477.8 958.5L1479.3 958.5L1480.8 958.5L1482.3 958.5L1483.8 958.5L1485.3 958.5L1486.8 958.5L1488.3 958.5L1489.8 958.5L1491.3 958.5L1492.8 958.5L1494.3 958.4L1495.8 958.4L1497.3 958.4L1498.8 958.4L1500.3 958.4L1501.8 958.4L1503.3 958.4L1504.8 958.4L1506.3 958.4L1507.8 958.4L1509.3 958.4L1510.8 958.4L1512.3 958.4L1513.8 958.3L1515.3 958.3L1516.9 958.3L1518.4 958.3L1519.9 958.3L1521.4 958.3L1522.9 958.3L1524.4 958.3L1525.9 958.3L1527.4 958.3L1528.9 958.3L1530.4 958.3L1531.9 958.2L1533.4 958.2L1534.9 958.2L1536.4 958.2L1537.9 958.2L1539.4 958.2L1540.9 958.2L1542.4 958.2L1543.9 958.2L1545.4 958.2L1546.9 958.2L1548.4 958.2L1549.9 958.2L1551.4 958.1L1552.9 958.1L1554.4 958.1L1555.9 958.1L1557.4 958.1L1558.9 958.1L1560.4 958.1L1561.9 958.1L1563.4 958.1L1564.9 958.1L1566.4 958.1L1567.9 958.1L1569.4 958.1L1570.9 958.0L1572.4 958.0L1573.9 958.0L1575.4 958.0L1576.9 958.0L1578.4 958.0L1579.9 958.0L1581.4 958.0L1582.9 958.0L1584.4 958.0L1585.9 958.0L1587.4 958.0L1588.9 958.0L1590.4 957.9L1591.9 957.9L1593.4 957.9L1594.9 957.9L1596.4 957.9L1597.9 957.9L1599.4 957.9L1600.9 957.9L1602.4 957.9L1603.9 957.9L1605.4 957.9L1606.9 957.9L1608.4 957.9L1609.9 957.9L1611.4 957.8L1612.9 957.8L1614.4 957.8L1616.0 957.8L1617.5 957.8L1619.0 957.8L1620.5 957.8L1622.0 957.8L1623.5 957.8L1625.0 957.8L1626.5 957.8L1628.0 957.8L1629.5 957.8L1631.0 957.8L1632.5 957.7L1634.0 957.7L1635.5 957.7L1637.0 957.7L1638.5 957.7L1640.0 957.7L1641.5 957.7L1643.0 957.7L1644.5 957.7L1646.0 957.7L1647.5 957.7L1649.0 957.7L1650.5 957.7L1652.0 957.7L1653.5 957.6L1655.0 957.6L1656.5 957.6L1658.0 957.6L1659.5 957.6L1661.0 957.6L1662.5 957.6L1664.0 957.6"/>
<path stroke="#B375E1" d="M348.5 0.0L348.5 1.5L348.6 3.0L348.6 4.5L348.6 6.0L348.7 7.5L348.7 9.0L348.7 10.5L348.8 12.0L348.8 13.5L348.9 15.0L348.9 16.5L348.9 18.0L349.0 19.5L349.0 21.0L349.0 22.5L349.1 24.0L349.1 25.5L349.1 27.0L349.2 28.5L349.2 30.0L349.2 31.5L349.3 33.0L349.3 34.5L349.3 36.0L349.4 37.5L349.4 39.0L349.5 40.5L349.5 42.0L349.5 43.5L349.6 45.0L349.6 46.5L349.6 48.0L349.7 49.5L349.7 51.0L349.7 52.5L349.8 54.0L349.8 55.5L349.8 57.0L349.9 58.5L349.9 60.0L349.9 61.5L350.0 63.0L350.0 64.5L350.0 66.0L350.1 67.5L350.1 69.0L350.2 70.5L350.2 72.0L350.2 73.5L350.3 75.0L350.3 76.5L350.3 78.0L350.4 79.5L350.4 81.0L350.4 82.5L350.5 84.0L350.5 85.5L350.5 87.0L350.6 88.5L350.6 90.0L350.6 91.5L350.7 93.0L350.7 94.5L350.7 96.0L350.8 97.5L350.8 99.0L350.8 100.5L350.9 102.0L350.9 103.5L351.0 105.0L351.0 106.5L351.0 108.0L351.1 109.5L351.1 111.0L351.1 112.5L351.2 114.0L351.2 115.5L351.2 117.0L351.3 118.5L351.3 120.0L351.3 121.5L351.4 123.0L351.4 124.6L351.4 126.1L351.5 127.6L351.5 129.1L351.5 130.6L351.6 132.1L351.6 133.6L351.6 135.1L351.7 136.6L351.7 138.1L351.8 139.6L351.8 141.1L351.8 142.6L351.9 144.1L351.9 145.6L351.9 147.1L352.0 148.6L352.0 150.1L352.0 151.6L352.1 153.1L352.1 154.6L352.1 156.1L352.2 157.6L352.2 159.1L352.2 160.6L352.3 162.1L352.3 163.6L352.3 165.1L352.4 166.6L352.4 168.1L352.4 169.6L352.5 171.1L352.5 172.6L352.5 174.1L352.6 175.6L352.6 177.1L352.6 178.6L352.7 180.1L352.7 181.6L352.7 183.1L352.8 184.6L352.8 186.1L352.8 187.6L352.9 189.1L352.9 190.6L352.9 192.1L353.0 193.6L353.0 195.1L353.1 196.6L353.1 198.1L353.1 199.6L353.2 201.1L353.2 202.6L353.2 204.1L353.3 205.6L353.3 207.1L353.3 208.6L353.4 210.1L353.4 211.6L353.4 213.1L353.5 214.6L353.5 216.1L353.5 217.6L353.6 219.1L353.6 220.6L353.6 222.1L353.7 223.6L353.7 225.1L353.7 226.6L353.8 228.1L353.8 229.6L353.8 231.1L353.9 232.6L353.9 234.1L353.9 235.6L354.0 237.1L354.0 238.6L354.0 240.1L354.1 241.6L354.1 243.1L354.1 244.6L354.2 246.1L354.2 247.6L354.2 249.1L354.3 250.6L354.3 252.1L354.3 253.6L354.3 255.1L354.4 256.6L354.4 258.1L354.4 259.6L354.5 261.1L354.5 262.6L354.5 264.1L354.6 265.6L354.6 267.1L354.6 268.6L354.7 270.1L354.7 271.6L354.7 273.1L354.8 274.6L354.8 276.1L354.8 277.6L354.9 279.1L354.9 280.6L354.9 282.1L355.0 283.6L355.0 285.1L355.0 286.6L355.0 288.1L355.1 289.6L355.1 291.1L355.1 292.6L355.2 294.1L355.2 295.6L355.2 297.1L355.3 298.6L355.3 300.1L355.3 301.6L355.4 303.1L355.4 304.6L355.4 306.1L355.5 307.6L355.5 309.1L355.5 310.6L355.6 312.1L355.6 313.6L355.6 315.1L355.6 316.6L355.7 318.1L355.7 319.6L355.7 321.1L355.8 322.6L355.8 324.1L355.8 325.6L355.9 327.1L355.9 328.6L355.9 330.1L356.0 331.6L356.0 333.1L356.0 334.6L356.1 336.1L356.1 337.6L356.1 339.1L356.2 340.6L356.2 342.1L356.2 343.6L356.2 345.1L356.3 346.6L356.3 348.1L356.3 349.6L356.4 351.1L356.4 352.7L356.4 354.2L356.5 355.7L356.5 357.2L356.5 358.7L356.6 360.2L356.6 361.7L356.6 363.2L356.7 364.7L356.7 366.2L356.7 367.7L356.8 369.2L356.8 370.7L356.8 372.2L356.9 373.7L356.9 375.2L356.9 376.7L357.0 378.2L357.0 379.7L357.0 381.2L357.1 382.7L357.1 384.2L357.1 385.7L357.2 387.2L357.2 388.7L357.2 390.2L357.3 391.7L357.3 393.2L357.3 394.7L357.4 396.2L357.4 397.7L357.4 399.2L357.5 400.7L357.5 402.2L357.5 403.7L357.6 405.2L357.6 406.7L357.6 408.2L357.7 409.7L357.7 411.2L357.7 412.7L357.8 414.2L357.8 415.7L357.8 417.2L357.9 418.7L357.9 420.2L357.9 421.7L358.0 423.2L358.0 424.7L358.0 426.2L358.1 427.7L358.1 429.2L358.2 430.7L358.2 432.2L358.2 433.7L358.3 435.2L358.3 436.7L358.3 438.2L358.4 439.7L358.4 441.2L358.4 442.7L358.5 444.2L358.5 445.7L358.5 447.2L358.6 448.7L358.6 450.2L358.7 451.7L358.7 453.2L358.7 454.7L358.8 456.2L358.8 457.7L358.8 459.2L358.9 460.7L358.9 462.2L358.9 463.7L359.0 465.2L359.0 466.7L359.1 468.2L359.1 469.7L359.1 471.2L359.2 472.7L359.2 474.2L359.2 475.7L359.3 477.2L359.3 478.7L359.3 480.2L359.4 481.7L359.4 483.2L359.5 484.7L359.5 486.2L359.5 487.7L359.6 489.2L359.6 490.7L359.6 492.2L359.7 493.7L359.7 495.2L359.8 496.7L359.8 498.2L359.8 499.7L359.9 501.2L359.9 502.7L359.9 504.2L360.0 505.7L360.0 507.2L360.1 508.7L360.1 510.2L360.1 511.7L360.2 513.2L360.2 514.7L360.2 516.2L360.3 517.7L360.3 519.2L360.4 520.7L360.4 522.2L360.4 523.7L360.5 525.2L360.5 526.7L360.6 528.2L360.6 529.7L360.6 531.2L360.7 532.7L360.7 534.2L360.8 535.7L360.8 537.2L360.8 538.7L360.9 540.2L360.9 541.7L361.0 543.2L361.0 544.7L361.0 546.2L361.1 547.7L361.1 549.2L361.1 550.7L361.2 552.2L361.2 553.7L361.3 555.2L361.3 556.7L361.3 558.2L361.4 559.7L361.4 561.2L361.5 562.7L361.5 564.2L361.6 565.7L361.6 567.2L361.6 568.7L361.7 570.2L361.7 571.7L361.8 573.2L361.8 574.7L361.8 576.2L361.9 577.7L361.9 579.2L362.0 580.7L362.0 582.2L362.0 583.7L362.1 585.2L362.1 586.7L362.2 588.2L362.2 589.7L362.3 591.2L362.3 592.7L362.3 594.2L362.4 595.7L362.4 597.2L362.5 598.7L362.5 600.2L362.5 601.7L362.6 603.2L362.6 604.7L362.7 606.2L362.7 607.7L362.8 609.2L362.8 610.7L362.8 612.2L362.9 613.7L362.9 615.2L363.0 616.7L363.0 618.2L363.1 619.7L363.1 621.2L363.1 622.7L363.2 624.2L363.2 625.8L363.3 627.3L363.3 628.8L363.4 630.3L363.4 631.8L363.4 633.3L363.5 634.8L363.5 636.3L363.6 637.8L363.6 639.3L363.6 640.8L363.7 642.3L363.7 643.8L363.8 645.3L363.8 646.8L363.9 648.3L363.9 649.8L363.9 651.3L364.0 652.8L364.0 654.3L364.1 655.8L364.1 657.3L364.2 658.8L364.2 660.3L364.2 661.8L364.3 663.3L364.3 664.8L364.4 666.3L364.4 667.8L364.5 669.3L364.5 670.8L364.6 672.3L364.6 673.8L364.6 675.3L364.7 676.8L364.7 678.3L364.8 679.8L364.8 681.3L364.9 682.8L364.9 684.3L365.0 685.8L365.0 687.3L365.0 688.8L365.1 690.3L365.1 691.8L365.2 693.3L365.2 694.8L365.3 696.3L365.3 697.8L365.4 699.3L365.4 700.8L365.5 702.3L365.5 703.8L365.6 705.3L365.6 706.8L365.6 708.3L365.7 709.8L365.7 711.3L365.8 712.8L365.8 714.3L365.9 715.8L365.9 717.3L366.0 718.8L366.0 720.3L366.1 721.8L366.1 723.3L366.2 724.8L366.2 726.3L366.3 727.8L366.3 729.3L366.4 730.8L366.4 732.3L366.5 733.8L366.5 735.3L366.6 736.8L366.6 738.3L366.7 739.8L366.7 741.3L366.8 742.8L366.9 744.3L366.9 745.8L367.0 747.3L367.0 748.8L367.1 750.3L367.1 751.8L367.2 753.3L367.2 754.8L367.3 756.3L367.3 757.8L367.4 759.3L367.5 760.8L367.5 762.3L367.6 763.8L367.6 765.3L367.7 766.8L367.7 768.3L367.8 769.8L367.9 771.3L367.9 772.8L368.0 774.3L368.0 775.8L368.1 777.3L368.2 778.8L368.2 780.3L368.3 781.8L368.3 783.3L368.4 784.8L368.5 786.3L368.5 787.8L368.6 789.3L368.7 790.8L368.7 792.3L368.8 793.8L368.9 795.3L368.9 796.8L369.0 798.3L369.1 799.8L369.1 801.3L369.2 802.8L369.3 804.3L369.3 805.8L369.4 807.3L369.5 808.8L369.6 810.3L369.6 811.8L369.7 813.3L369.8 814.8L369.9 816.3L369.9 817.8L370.0 819.3L370.1 820.8L370.2 822.3L370.3 823.8L370.3 825.3L370.4 826.8L370.5 828.3L370.6 829.8L370.7 831.3L370.7 832.8L370.8 834.2L370.9 835.7L371.0 837.2L371.1 838.7L371.2 840.2L371.3 841.7L371.3 843.2L371.4 844.7L371.5 846.2L371.6 847.7L371.7 849.2L371.8 850.7L371.8 852.2L371.9 853.7L372.0 855.2L372.1 856.7L372.2 858.3L372.2 859.8L372.3 861.3L372.4 862.8L372.5 864.3L372.6 865.8L372.7 867.3L372.7 868.8L372.8 870.3L372.9 871.8L373.0 873.3L373.1 874.8L373.2 876.3L373.4 877.8L373.5 879.3L373.6 880.8L373.7 882.2L373.9 883.7L374.0 885.2L374.1 886.7L374.3 888.2L374.5 889.7L374.6 891.2L374.9 892.9L375.1 894.8L375.4 896.7L375.7 898.7L376.1 900.6L376.4 902.4L376.8 904.0L377.2 905.4L377.6 906.6L378.0 907.4L378.4 907.8L378.7 907.7L379.1 907.4L379.6 906.7L380.0 905.7L380.4 904.5L380.9 903.1L381.3 901.5L381.8 899.8L382.3 898.0L382.8 896.2L383.2 894.3L383.7 892.4L384.1 890.5L384.6 888.7L385.0 887.0L385.4 885.4L385.8 883.9L386.2 882.5L386.5 881.0L386.9 879.6L387.3 878.1L387.6 876.7L388.0 875.2L388.3 873.7L388.7 872.3L389.0 870.8L389.3 869.4L389.7 867.9L390.0 866.4L390.4 865.0L390.7 863.5L391.0 862.0L391.4 860.6L391.7 859.1L392.0 857.6L392.4 856.2L392.7 854.7L393.0 853.3L393.3 851.8L393.6 850.3L393.9 848.8L394.2 847.4L394.5 845.9L394.8 844.4L395.1 843.0L395.4 841.5L395.6 840.0L395.9 838.5L396.2 837.1L396.4 835.6L396.7 834.1L396.9 832.6L397.2 831.1L397.5 829.7L397.7 828.2L398.0 826.7L398.2 825.2L398.4 823.7L398.7 822.3L398.9 820.8L399.2 819.3L399.4 817.8L399.6 816.3L399.9 814.8L400.1 813.4L400.3 811.9L400.6 810.4L400.8 808.9L401.0 807.4L401.2 805.9L401.5 804.5L401.7 803.0L401.9 801.5L402.2 800.0L402.4 798.5L402.6 797.0L402.8 795.5L403.0 794.1L403.3 792.6L403.5 791.1L403.7 789.6L403.9 788.1L404.1 786.6L404.3 785.1L404.5 783.7L404.7 782.2L404.9 780.7L405.1 779.2L405.3 777.7L405.5 776.2L405.6 774.7L405.8 773.2L406.0 771.7L406.2 770.2L406.4 768.8L406.6 767.3L406.8 765.8L407.0 764.3L407.2 762.8L407.4 761.3L407.6 759.8L407.7 758.3L407.9 756.8L408.1 755.4L408.3 753.9L408.5 752.4L408.7 750.9L409.0 749.4L409.2 747.9L409.4 746.4L409.6 745.0L409.8 743.5L410.0 742.0L410.3 740.5L410.5 739.0L410.7 737.5L411.0 736.1L411.2 734.6L411.4 733.1L411.7 731.6L412.0 730.1L412.2 728.7L412.5 727.2L412.7 725.7L413.0 724.2L413.3 722.8L413.5 721.3L413.8 719.8L414.1 718.3L414.4 716.9L414.7 715.4L414.9 713.9L415.2 712.4L415.5 711.0L415.8 709.5L416.1 708.0L416.4 706.5L416.7 705.1L417.0 703.6L417.3 702.1L417.6 700.7L417.9 699.2L418.2 697.7L418.6 696.3L418.9 694.8L419.2 693.3L419.5 691.8L419.8 690.4L420.1 688.9L420.5 687.4L420.8 686.0L421.1 684.5L421.4 683.0L421.8 681.6L422.1 680.1L422.4 678.7L422.8 677.2L423.1 675.7L423.4 674.3L423.8 672.8L424.1 671.3L424.4 669.9L424.7 668.4L425.1 666.9L425.4 665.5L425.7 664.0L426.1 662.5L426.4 661.1L426.8 659.6L427.1 658.1L427.5 656.7L427.9 655.2L428.2 653.8L428.6 652.3L429.0 650.9L429.4 649.4L429.9 648.0L430.3 646.6L430.8 645.1L431.3 643.4L431.8 641.6L432.4 639.7L433.0 638.0L433.6 636.6L434.2 635.5L434.7 635.0L435.3 635.2L435.9 635.8L436.4 637.0L437.0 638.5L437.6 640.2L438.1 642.1L438.6 643.9L439.1 645.7L439.6 647.2L440.0 648.6L440.4 650.1L440.8 651.5L441.2 653.0L441.6 654.4L441.9 655.9L442.3 657.3L442.6 658.8L443.0 660.3L443.3 661.7L443.6 663.2L443.9 664.7L444.2 666.2L444.5 667.6L444.7 669.1L445.0 670.6L445.2 672.1L445.4 673.6L445.7 675.0L445.9 676.5L446.1 678.0L446.3 679.5L446.5 681.0L446.6 682.4L446.8 683.9L447.0 685.4L447.2 686.9L447.4 688.4L447.5 689.9L447.7 691.4L447.8 692.9L448.0 694.4L448.2 695.9L448.3 697.4L448.5 698.8L448.6 700.3L448.7 701.8L448.9 703.3L449.0 704.8L449.2 706.3L449.3 707.8L449.4 709.3L449.6 710.8L449.7 712.3L449.8 713.8L450.0 715.3L450.1 716.8L450.2 718.3L450.3 719.8L450.5 721.3L450.6 722.8L450.7 724.3L450.9 725.8L451.0 727.3L451.1 728.8L451.3 730.3L451.4 731.8L451.5 733.3L451.7 734.8L451.8 736.3L451.9 737.8L452.1 739.3L452.2 740.8L452.3 742.3L452.5 743.8L452.6 745.3L452.7 746.7L452.9 748.2L453.0 749.7L453.1 751.2L453.2 752.7L453.4 754.2L453.5 755.7L453.6 757.2L453.7 758.7L453.9 760.2L454.0 761.7L454.1 763.2L454.2 764.7L454.4 766.2L454.5 767.7L454.6 769.2L454.7 770.7L454.9 772.2L455.0 773.7L455.1 775.2L455.3 776.7L455.4 778.2L455.5 779.7L455.6 781.1L455.8 782.6L455.9 784.1L456.0 785.6L456.2 787.1L456.3 788.6L456.4 790.1L456.6 791.6L456.7 793.1L456.8 794.6L457.0 796.1L457.1 797.6L457.2 799.1L457.4 800.6L457.5 802.1L457.7 803.6L457.8 805.1L457.9 806.6L458.1 808.1L458.2 809.6L458.4 811.0L458.5 812.5L458.6 814.0L458.8 815.5L458.9 817.0L459.1 818.5L459.2 820.0L459.4 821.5L459.5 823.0L459.7 824.5L459.8 826.0L460.0 827.5L460.2 829.0L460.3 830.5L460.5 832.0L460.6 833.4L460.8 834.9L461.0 836.4L461.1 837.9L461.3 839.4L461.5 840.9L461.6 842.4L461.8 843.9L462.0 845.4L462.1 846.9L462.3 848.4L462.5 849.9L462.6 851.3L462.8 852.8L463.0 854.3L463.2 855.8L463.3 857.3L463.5 858.8L463.7 860.3L463.8 861.8L464.0 863.3L464.2 864.8L464.3 866.3L464.5 867.8L464.7 869.2L464.8 870.7L465.0 872.2L465.2 873.7L465.3 875.2L465.5 876.7L465.7 878.2L465.8 879.7L466.0 881.2L466.2 882.7L466.3 884.2L466.5 885.7L466.7 887.1L466.8 888.6L467.0 890.1L467.2 891.6L467.4 893.1L467.5 894.6L467.7 896.1L467.9 897.6L468.0 899.1L468.2 900.6L468.4 902.1L468.5 903.6L468.7 905.0L468.9 906.5L469.0 908.0L469.2 909.5L469.4 911.0L469.6 912.5L469.7 914.0L469.9 915.5L470.0 917.0L470.2 918.5L470.3 920.0L470.5 921.5L470.6 923.0L470.8 924.5L470.9 926.0L471.1 927.4L471.3 928.9L471.4 930.4L471.6 931.9L471.7 933.4L471.9 934.9L472.1 936.4L472.2 937.9L472.4 939.4L472.6 940.9L472.8 942.4L473.0 943.8L473.2 945.3L473.5 946.8L473.7 948.3L473.9 949.8L474.2 951.3L474.5 952.8L474.8 954.3L475.1 955.8L475.4 957.3L475.8 958.7L476.3 960.1L476.8 961.4L477.5 963.0L478.4 964.5L479.5 965.7L480.5 966.3L481.5 965.9L482.5 964.8L483.6 963.4L484.7 962.2L486.0 961.4L487.4 960.6L488.8 960.0L490.2 959.8L491.6 959.7L493.1 959.7L494.5 959.6L496.0 959.5L497.5 959.5L499.0 959.5L500.5 959.4L502.0 959.4L503.5 959.3L505.0 959.3L506.6 959.3L508.1 959.3L509.6 959.3L511.1 959.2L512.7 959.2L514.2 959.2L515.7 959.2L517.2 959.2L518.7 959.2L520.2 959.2L521.7 959.2L523.2 959.2L524.7 959.2L526.2 959.2L527.7 959.2L529.2 959.2L530.7 959.2L532.2 959.2L533.7 959.2L535.2 959.2L536.7 959.2L538.3 959.2L539.8 959.2L541.3 959.2L542.8 959.3L544.3 959.3L545.8 959.3L547.3 959.3L548.8 959.3L550.3 959.3L551.8 959.3L553.3 959.3L554.8 959.3L556.3 959.3L557.8 959.3L559.3 959.3L560.8 959.4L562.3 959.4L563.8 959.4L565.3 959.4L566.8 959.4L568.3 959.4L569.8 959.4L571.3 959.4L572.8 959.4L574.3 959.5L575.8 959.5L577.3 959.5L578.8 959.5L580.3 959.5L581.8 959.5L583.3 959.5L584.8 959.5L586.3 959.6L587.8 959.6L589.3 959.6L590.8 959.6L592.3 959.6L593.8 959.6L595.3 959.6L596.8 959.6L598.3 959.7L599.8 959.7L601.3 959.7L602.8 959.7L604.3 959.7L605.8 959.7L607.3 959.7L608.8 959.8L610.3 959.8L611.8 959.8L613.3 959.8L614.8 959.8L616.3 959.8L617.8 959.8L619.3 959.8L620.8 959.9L622.3 959.9L623.8 959.9L625.3 959.9L626.8 959.9L628.3 959.9L629.8 959.9L631.3 959.9L632.8 959.9L634.3 960.0L635.8 960.0L637.3 960.0L638.8 960.0L640.3 960.0L641.8 960.0L643.3 960.0L644.8 960.0L646.3 960.0L647.8 960.1L649.3 960.1L650.8 960.1L652.3 960.1L653.8 960.1L655.3 960.1L656.8 960.1L658.3 960.1L659.8 960.1L661.3 960.2L662.8 960.2L664.3 960.2L665.8 960.2L667.3 960.2L668.8 960.2L670.3 960.2L671.8 960.2L673.3 960.2L674.8 960.3L676.3 960.3L677.8 960.3L679.3 960.3L680.8 960.3L682.3 960.3L683.8 960.3L685.3 960.3L686.8 960.3L688.4 960.4L689.9 960.4L691.4 960.4L692.9 960.4L694.4 960.4L695.9 960.4L697.4 960.4L698.9 960.4L700.4 960.4L701.9 960.5L703.4 960.5L704.9 960.5L706.4 960.5L707.9 960.5L709.4 960.5L710.9 960.5L712.4 960.5L713.9 960.5L715.4 960.5L716.9 960.6L718.4 960.6L719.9 960.6L721.4 960.6L722.9 960.6L724.4 960.6L725.9 960.6L727.4 960.6L728.9 960.6L730.4 960.6L731.9 960.7L733.4 960.7L734.9 960.7L736.4 960.7L737.9 960.7L739.4 960.7L740.9 960.7L742.4 960.7L743.9 960.7L745.4 960.7L746.9 960.7L748.4 960.7L749.9 960.8L751.4 960.8L752.9 960.8L754.4 960.8L755.9 960.8L757.4 960.8L758.9 960.8L760.4 960.8L761.9 960.8L763.4 960.8L764.9 960.8L766.4 960.8L767.9 960.8L769.4 960.8L770.9 960.8L772.4 960.9L773.9 960.9L775.4 960.9L776.9 960.9L778.4 960.9L779.9 960.9L781.4 960.9L782.9 960.9L784.4 960.9L785.9 960.9L787.4 960.9L788.9 960.9L790.4 960.9L791.9 960.9L793.4 960.9L794.9 960.9L796.4 960.9L797.9 961.0L799.4 961.0L800.9 961.0L802.4 961.0L803.9 961.0L805.4 961.0L806.9 961.0L808.4 961.0L809.9 961.0L811.4 961.0L812.9 961.0L814.4 961.0L815.9 961.0L817.4 961.0L818.9 961.0L820.4 961.0L821.9 961.0L823.4 961.0L824.9 961.1L826.4 961.1L827.9 961.1L829.4 961.1L830.9 961.1L832.4 961.1L833.9 961.1L835.4 961.1L836.9 961.1L838.5 961.1L840.0 961.1L841.5 961.1L843.0 961.1L844.5 961.1L846.0 961.1L847.5 961.1L849.0 961.1L850.5 961.1L852.0 961.1L853.5 961.1L855.0 961.1L856.5 961.1L858.0 961.1L859.5 961.2L861.0 961.2L862.5 961.2L864.0 961.2L865.5 961.2L867.0 961.2L868.5 961.2L870.0 961.2L871.5 961.2L873.0 961.2L874.5 961.2L876.0 961.2L877.5 961.2L879.0 961.2L880.5 961.2L882.0 961.2L883.5 961.2L885.0 961.2L886.5 961.2L888.0 961.2L889.5 961.2L891.0 961.2L892.5 961.2L894.0 961.2L895.5 961.2L897.0 961.2L898.5 961.2L900.0 961.2L901.5 961.2L903.0 961.2L904.5 961.2L906.0 961.2L907.5 961.2L909.0 961.2L910.5 961.2L912.0 961.2L913.5 961.2L915.0 961.2L916.5 961.2L918.0 961.2L919.5 961.2L921.0 961.2L922.5 961.2L924.0 961.2L925.5 961.2L927.0 961.2L928.5 961.2L930.0 961.2L931.5 961.2L933.0 961.2L934.5 961.2L936.0 961.2L937.5 961.2L939.0 961.2L940.5 961.1L942.0 961.1L943.5 961.1L945.0 961.1L946.5 961.1L948.0 961.1L949.5 961.1L951.0 961.1L952.5 961.1L954.0 961.1L955.5 961.1L957.0 961.1L958.5 961.1L960.0 961.1L961.5 961.1L963.0 961.1L964.5 961.1L966.0 961.1L967.5 961.1L969.0 961.1L970.5 961.1L972.0 961.1L973.5 961.0L975.0 961.0L976.5 961.0L978.0 961.0L979.5 961.0L981.0 961.0L982.5 961.0L984.0 961.0L985.5 961.0L987.1 961.0L988.6 961.0L990.1 961.0L991.6 961.0L993.1 961.0L994.6 961.0L996.1 961.0L997.6 961.0L999.1 960.9L1000.6 960.9L1002.1 960.9L1003.6 960.9L1005.1 960.9L1006.6 960.9L1008.1 960.9L1009.6 960.9L1011.1 960.9L1012.6 960.9L1014.1 960.9L1015.6 960.9L1017.1 960.9L1018.6 960.9L1020.1 960.9L1021.6 960.9L1023.1 960.8L1024.6 960.8L1026.1 960.8L1027.6 960.8L1029.1 960.8L1030.6 960.8L1032.1 960.8L1033.6 960.8L1035.1 960.8L1036.6 960.8L1038.1 960.8L1039.6 960.8L1041.1 960.8L1042.6 960.8L1044.1 960.8L1045.6 960.8L1047.1 960.8L1048.6 960.7L1050.1 960.7L1051.6 960.7L1053.1 960.7L1054.6 960.7L1056.1 960.7L1057.6 960.7L1059.1 960.7L1060.6 960.7L1062.1 960.7L1063.6 960.7L1065.1 960.7L1066.6 960.7L1068.1 960.7L1069.6 960.7L1071.1 960.7L1072.6 960.7L1074.1 960.6L1075.6 960.6L1077.1 960.6L1078.6 960.6L1080.1 960.6L1081.6 960.6L1083.1 960.6L1084.6 960.6L1086.1 960.6L1087.6 960.6L1089.1 960.6L1090.6 960.6L1092.1 960.6L1093.6 960.6L1095.1 960.6L1096.6 960.6L1098.1 960.5L1099.6 960.5L1101.1 960.5L1102.6 960.5L1104.1 960.5L1105.6 960.5L1107.1 960.5L1108.6 960.5L1110.1 960.5L1111.6 960.5L1113.1 960.5L1114.6 960.5L1116.1 960.5L1117.6 960.5L1119.1 960.5L1120.6 960.5L1122.1 960.4L1123.6 960.4L1125.1 960.4L1126.6 960.4L1128.1 960.4L1129.6 960.4L1131.1 960.4L1132.6 960.4L1134.1 960.4L1135.7 960.4L1137.2 960.4L1138.7 960.4L1140.2 960.4L1141.7 960.4L1143.2 960.3L1144.7 960.3L1146.2 960.3L1147.7 960.3L1149.2 960.3L1150.7 960.3L1152.2 960.3L1153.7 960.3L1155.2 960.3L1156.7 960.3L1158.2 960.3L1159.7 960.3L1161.2 960.3L1162.7 960.3L1164.2 960.2L1165.7 960.2L1167.2 960.2L1168.7 960.2L1170.2 960.2L1171.7 960.2L1173.2 960.2L1174.7 960.2L1176.2 960.2L1177.7 960.2L1179.2 960.2L1180.7 960.2L1182.2 960.2L1183.7 960.1L1185.2 960.1L1186.7 960.1L1188.2 960.1L1189.7 960.1L1191.2 960.1L1192.7 960.1L1194.2 960.1L1195.7 960.1L1197.2 960.1L1198.7 960.1L1200.2 960.1L1201.7 960.1L1203.2 960.0L1204.7 960.0L1206.2 960.0L1207.7 960.0L1209.2 960.0L1210.7 960.0L1212.2 960.0L1213.7 960.0L1215.2 960.0L1216.7 960.0L1218.2 960.0L1219.7 960.0L1221.2 960.0L1222.7 959.9L1224.2 959.9L1225.7 959.9L1227.2 959.9L1228.7 959.9L1230.2 959.9L1231.7 959.9L1233.2 959.9L1234.7 959.9L1236.2 959.9L1237.7 959.9L1239.2 959.9L1240.7 959.9L1242.2 959.8L1243.7 959.8L1245.2 959.8L1246.7 959.8L1248.2 959.8L1249.7 959.8L1251.2 959.8L1252.7 959.8L1254.2 959.8L1255.7 959.8L1257.2 959.8L1258.7 959.8L1260.2 959.7L1261.7 959.7L1263.2 959.7L1264.7 959.7L1266.2 959.7L1267.7 959.7L1269.2 959.7L1270.7 959.7L1272.2 959.7L1273.7 959.7L1275.2 959.7L1276.7 959.6L1278.2 959.6L1279.7 959.6L1281.2 959.6L1282.7 959.6L1284.2 959.6L1285.7 959.6L1287.3 959.6L1288.8 959.6L1290.3 959.6L1291.8 959.6L1293.3 959.5L1294.8 959.5L1296.3 959.5L1297.8 959.5L1299.3 959.5L1300.8 959.5L1302.3 959.5L1303.8 959.5L1305.3 959.5L1306.8 959.5L1308.3 959.4L1309.8 959.4L1311.3 959.4L1312.8 959.4L1314.3 959.4L1315.8 959.4L1317.3 959.4L1318.8 959.4L1320.3 959.4L1321.8 959.4L1323.3 959.3L1324.8 959.3L1326.3 959.3L1327.8 959.3L1329.3 959.3L1330.8 959.3L1332.3 959.3L1333.8 959.3L1335.3 959.3L1336.8 959.3L1338.3 959.2L1339.8 959.2L1341.3 959.2L1342.8 959.2L1344.3 959.2L1345.8 959.2L1347.3 959.2L1348.8 959.2L1350.3 959.2L1351.8 959.1L1353.3 959.1L1354.8 959.1L1356.3 959.1L1357.8 959.1L1359.3 959.1L1360.8 959.1L1362.3 959.1L1363.8 959.1L1365.3 959.1L1366.8 959.0L1368.3 959.0L1369.8 959.0L1371.3 959.0L1372.8 959.0L1374.3 959.0L1375.8 959.0L1377.3 959.0L1378.8 959.0L1380.3 958.9L1381.8 958.9L1383.3 958.9L1384.8 958.9L1386.3 958.9L1387.8 958.9L1389.3 958.9L1390.8 958.9L1392.3 958.9L1393.8 958.9L1395.3 958.8L1396.8 958.8L1398.3 958.8L1399.8 958.8L1401.3 958.8L1402.8 958.8L1404.3 958.8L1405.8 958.8L1407.3 958.8L1408.8 958.8L1410.3 958.7L1411.8 958.7L1413.3 958.7L1414.8 958.7L1416.3 958.7L1417.8 958.7L1419.3 958.7L1420.8 958.7L1422.3 958.7L1423.8 958.7L1425.3 958.7L1426.8 958.6L1428.3 958.6L1429.8 958.6L1431.3 958.6L1432.8 958.6L1434.3 958.6L1435.8 958.6L1437.3 958.6L1438.9 958.6L1440.4 958.6L1441.9 958.5L1443.4 958.5L1444.9 958.5L1446.4 958.5L1447.9 958.5L1449.4 958.5L1450.9 958.5L1452.4 958.5L1453.9 958.5L1455.4 958.5L1456.9 958.5L1458.4 958.5L1459.9 958.4L1461.4 958.4L1462.9 958.4L1464.4 958.4L1465.9 958.4L1467.4 958.4L1468.9 958.4L1470.4 958.4L1471.9 958.4L1473.4 958.4L1474.9 958.4L1476.4 958.3L1477.9 958.3L1479.4 958.3L1480.9 958.3L1482.4 958.3L1483.9 958.3L1485.4 958.3L1486.9 958.3L1488.4 958.3L1489.9 958.3L1491.4 958.3L1492.9 958.3L1494.4 958.2L1495.9 958.2L1497.4 958.2L1498.9 958.2L1500.4 958.2L1501.9 958.2L1503.4 958.2L1504.9 958.2L1506.4 958.2L1507.9 958.2L1509.4 958.2L1510.9 958.2L1512.4 958.2L1513.9 958.1L1515.4 958.1L1516.9 958.1L1518.4 958.1L1519.9 958.1L1521.4 958.1L1522.9 958.1L1524.4 958.1L1525.9 958.1L1527.4 958.1L1528.9 958.1L1530.4 958.1L1531.9 958.0L1533.4 958.0L1534.9 958.0L1536.4 958.0L1537.9 958.0L1539.4 958.0L1540.9 958.0L1542.4 958.0L1543.9 958.0L1545.4 958.0L1546.9 958.0L1548.4 958.0L1549.9 958.0L1551.4 957.9L1552.9 957.9L1554.4 957.9L1555.9 957.9L1557.4 957.9L1558.9 957.9L1560.4 957.9L1561.9 957.9L1563.4 957.9L1564.9 957.9L1566.4 957.9L1567.9 957.9L1569.4 957.9L1570.9 957.8L1572.4 957.8L1573.9 957.8L1575.4 957.8L1576.9 957.8L1578.4 957.8L1579.9 957.8L1581.4 957.8L1582.9 957.8L1584.4 957.8L1585.9 957.8L1587.4 957.8L1588.9 957.8L1590.5 957.7L1592.0 957.7L1593.5 957.7L1595.0 957.7L1596.5 957.7L1598.0 957.7L1599.5 957.7L1601.0 957.7L1602.5 957.7L1604.0 957.7L1605.5 957.7L1607.0 957.7L1608.5 957.7L1610.0 957.7L1611.5 957.6L1613.0 957.6L1614.5 957.6L1616.0 957.6L1617.5 957.6L1619.0 957.6L1620.5 957.6L1622.0 957.6L1623.5 957.6L1625.0 957.6L1626.5 957.6L1628.0 957.6L1629.5 957.6L1631.0 957.6L1632.5 957.5L1634.0 957.5L1635.5 957.5L1637.0 957.5L1638.5 957.5L1640.0 957.5L1641.5 957.5L1643.0 957.5L1644.5 957.5L1646.0 957.5L1647.5 957.5L1649.0 957.5L1650.5 957.5L1652.0 957.5L1653.5 957.4L1655.0 957.4L1656.5 957.4L1658.0 957.4L1659.5 957.4L1661.0 957.4L1662.5 957.4L1664.0 957.4"/>
</g>
<g class="t" text-anchor="end">
<text x="218.5" y="59.6">2.0</text>
<text x="218.5" y="285.8">1.5</text>
<text x="218.5" y="511.9">1.0</text>
<text x="218.5" y="738.1">0.5</text>
<text x="218.5" y="964.2">0.0</text>
</g>
<g class="t" text-anchor="middle">
<text x="256.1" y="1074">200</text>
<text x="489.4" y="1074">300</text>
<text x="722.8" y="1074">400</text>
<text x="956.1" y="1074">500</text>
<text x="1189.5" y="1074">600</text>
<text x="1422.9" y="1074">700</text>
<text x="1656.2" y="1074">800</text>
</g>
<text class="a" text-anchor="middle" x="954.2" y="1182" letter-spacing="0.3">Wavelength / nm</text>
<text class="a" text-anchor="middle" transform="translate(71.4 499) rotate(-90)">Absorbance</text>
<path fill="#555B5A" d="M1156.5 91.85H1290.4V93.90H1294.5V97.65H1296.7V100.15H1294.5V103.90H1290.4V105.95H1156.5V103.90H1152.4V100.15H1150.2V97.65H1152.4V93.90H1156.5Z"/>
<path fill="#00CBCB" d="M1156.5 166.15H1290.4V168.20H1294.5V171.95H1296.7V174.45H1294.5V178.20H1290.4V180.25H1156.5V178.20H1152.4V174.45H1150.2V171.95H1152.4V168.20H1156.5Z"/>
<path fill="#7B4B4B" d="M1156.5 240.45H1290.4V242.50H1294.5V246.25H1296.7V248.75H1294.5V252.50H1290.4V254.55H1156.5V252.50H1152.4V248.75H1150.2V246.25H1152.4V242.50H1156.5Z"/>
<path fill="#3AAA6C" d="M1156.5 314.75H1290.4V316.80H1294.5V320.55H1296.7V323.05H1294.5V326.80H1290.4V328.85H1156.5V326.80H1152.4V323.05H1150.2V320.55H1152.4V316.80H1156.5Z"/>
<path fill="#B375E1" d="M1156.5 389.05H1290.4V391.10H1294.5V394.85H1296.7V397.35H1294.5V401.10H1290.4V403.15H1156.5V401.10H1152.4V397.35H1150.2V394.85H1152.4V391.10H1156.5Z"/>
<g class="t">
<text x="1304.5" y="117.3">0.5 mg/mL</text>
<text x="1304.5" y="191.8">1.0 mg/mL</text>
<text x="1304.5" y="266.2">5.0 mg/mL</text>
<text x="1304.5" y="340.7">15.0 mg/mL</text>
<text x="1304.5" y="415.1">25.0 mg/mL</text>
</g>
</svg></body></html>
